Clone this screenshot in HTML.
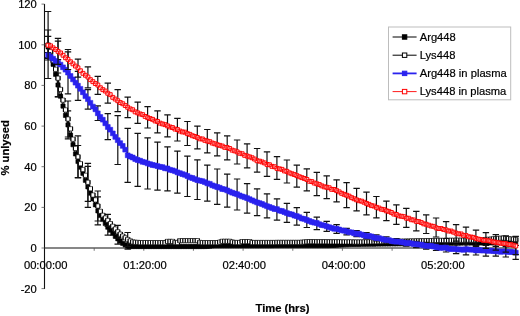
<!DOCTYPE html>
<html><head><meta charset="utf-8"><title>Lysis chart</title>
<style>
html,body{margin:0;padding:0;background:#fff}
svg{display:block;filter:blur(0.35px)}
text{font-family:"Liberation Sans",sans-serif;font-size:11.2px;fill:#000;stroke:#000;stroke-width:0.2px}
</style></head><body>
<svg width="520" height="316" viewBox="0 0 520 316">
<rect width="520" height="316" fill="#fff"/>
<path d="M44.5 4.1V289.0M44.5 248.0H516" stroke="#111" stroke-width="1.1" fill="none"/>
<path d="M41.5 288.6h3M41.5 248.0h3M41.5 207.4h3M41.5 166.7h3M41.5 126.1h3M41.5 85.4h3M41.5 44.8h3M41.5 4.1h3M94.2 248.0v2.8M143.8 248.0v2.8M193.4 248.0v2.8M243.1 248.0v2.8M292.8 248.0v2.8M342.4 248.0v2.8M392.1 248.0v2.8M441.7 248.0v2.8M491.3 248.0v2.8" stroke="#555" stroke-width="0.8" fill="none"/>
<text x="36.8" y="292.6" text-anchor="end">-20</text>
<text x="36.8" y="252.0" text-anchor="end">0</text>
<text x="36.8" y="211.4" text-anchor="end">20</text>
<text x="36.8" y="170.7" text-anchor="end">40</text>
<text x="36.8" y="130.1" text-anchor="end">60</text>
<text x="36.8" y="89.4" text-anchor="end">80</text>
<text x="36.8" y="48.8" text-anchor="end">100</text>
<text x="36.8" y="8.1" text-anchor="end">120</text>
<text x="45.7" y="269" text-anchor="middle">00:00:00</text>
<text x="145.0" y="269" text-anchor="middle">01:20:00</text>
<text x="244.3" y="269" text-anchor="middle">02:40:00</text>
<text x="343.6" y="269" text-anchor="middle">04:00:00</text>
<text x="442.9" y="269" text-anchor="middle">05:20:00</text>
<text x="282.5" y="311.8" text-anchor="middle" font-weight="bold">Time (hrs)</text>
<text transform="translate(9.2,147.8) rotate(-90)" text-anchor="middle" font-weight="bold" font-size="11.5">% unlysed</text>
<path d="M48.1 36.4V57.6M44.9 36.4h6.4M44.9 57.6h6.4M58.0 73.0V97.0M54.8 73.0h6.4M54.8 97.0h6.4M68.0 110.9V138.9M64.8 110.9h6.4M64.8 138.9h6.4M78.0 145.5V177.5M74.8 145.5h6.4M74.8 177.5h6.4M87.9 166.4V207.4M84.7 166.4h6.4M84.7 207.4h6.4M97.8 196.9V224.9M94.6 196.9h6.4M94.6 224.9h6.4M107.8 219.2V235.2M104.6 219.2h6.4M104.6 235.2h6.4M117.8 233.3V244.2M114.5 233.3h6.4M114.5 244.2h6.4M127.7 243.1V249.1M124.5 243.1h6.4M124.5 249.1h6.4" stroke="#111" stroke-width="1.2" fill="none"/>
<path d="M48.1 47.0 L50.6 54.2 L53.1 64.3 L55.6 74.2 L58.0 85.0 L60.5 96.2 L63.0 106.1 L65.5 115.4 L68.0 124.9 L70.5 135.1 L73.0 144.7 L75.5 153.9 L78.0 161.5 L80.4 167.2 L82.9 173.3 L85.4 180.3 L87.9 186.9 L90.4 193.2 L92.9 198.8 L95.4 204.8 L97.8 210.9 L100.3 215.5 L102.8 219.5 L105.3 223.5 L107.8 227.2 L110.3 230.2 L112.8 233.4 L115.3 236.3 L117.8 238.8 L120.2 241.2 L122.7 243.3 L125.2 245.0 L127.7 246.1 L130.2 246.5 L132.7 246.5 L135.2 246.5 L137.7 246.5 L140.1 246.5 L142.6 246.5 L145.1 246.5 L147.6 246.5 L150.1 246.5 L152.6 246.5 L155.1 246.5 L157.5 246.5 L160.0 246.5 L162.5 246.5 L165.0 246.5 L167.5 246.5 L170.0 246.5 L172.5 246.5 L175.0 246.5 L177.4 246.5 L179.9 246.5 L182.4 246.5 L184.9 246.5 L187.4 246.5 L189.9 246.5 L192.4 246.5 L194.9 246.5 L197.3 246.5 L199.8 246.5 L202.3 246.5 L204.8 246.5 L207.3 246.3 L209.8 246.1 L212.3 245.8 L214.8 245.6 L217.2 245.6 L219.7 245.6 L222.2 245.6 L224.7 245.6 L227.2 245.6 L229.7 245.6 L232.2 245.6 L234.7 245.6 L237.1 245.6 L239.6 245.6 L242.1 245.6 L244.6 245.6 L247.1 245.6 L249.6 245.6 L252.1 245.6 L254.6 245.6 L257.1 245.6 L259.5 245.6 L262.0 245.6 L264.5 245.6 L267.0 245.6 L269.5 245.6 L272.0 245.6 L274.5 245.5 L276.9 245.5 L279.4 245.5 L281.9 245.5 L284.4 245.5 L286.9 245.5 L289.4 245.5 L291.9 245.5 L294.4 245.5 L296.8 245.5 L299.3 245.5 L301.8 245.5 L304.3 245.5 L306.8 245.5 L309.3 245.5 L311.8 245.5 L314.3 245.5 L316.8 245.5 L319.2 245.5 L321.7 245.5 L324.2 245.5 L326.7 245.5 L329.2 245.5 L331.7 245.4 L334.2 245.3 L336.6 245.1 L339.1 245.0 L341.6 244.9 L344.1 244.7 L346.6 244.6 L349.1 244.5 L351.6 244.4 L354.1 244.3 L356.6 244.3 L359.0 244.3 L361.5 244.2 L364.0 244.2 L366.5 244.2 L369.0 244.1 L371.5 244.1 L374.0 244.1 L376.4 244.0 L378.9 244.0 L381.4 244.0 L383.9 243.9 L386.4 243.9 L388.9 243.9 L391.4 243.8 L393.9 243.8 L396.4 243.8 L398.8 243.7 L401.3 243.7 L403.8 243.7 L406.3 243.6 L408.8 243.6 L411.3 243.6 L413.8 243.5 L416.2 243.5 L418.7 243.5 L421.2 243.5 L423.7 243.4 L426.2 243.4 L428.7 243.4 L431.2 243.3 L433.7 243.3 L436.1 243.3 L438.6 243.2 L441.1 243.2 L443.6 243.2 L446.1 243.2 L448.6 243.1 L451.1 243.1 L453.6 243.1 L456.1 243.1 L458.5 243.1 L461.0 243.0 L463.5 243.0 L466.0 243.0 L468.5 243.0 L471.0 243.0 L473.5 242.9 L475.9 242.9 L478.4 242.9 L480.9 242.9 L483.4 242.9 L485.9 242.8 L488.4 242.8 L490.9 242.8 L493.4 242.8 L495.8 242.8 L498.3 242.7 L500.8 242.7 L503.3 242.7 L505.8 242.7 L508.3 242.7 L510.8 242.6 L513.3 242.6 L515.8 242.6" stroke="#000" stroke-width="1" fill="none"/>
<path d="M46.0 44.9h4.2v4.2h-4.2zM48.5 52.1h4.2v4.2h-4.2zM51.0 62.2h4.2v4.2h-4.2zM53.5 72.2h4.2v4.2h-4.2zM55.9 82.9h4.2v4.2h-4.2zM58.4 94.1h4.2v4.2h-4.2zM60.9 104.0h4.2v4.2h-4.2zM63.4 113.3h4.2v4.2h-4.2zM65.9 122.8h4.2v4.2h-4.2zM68.4 133.0h4.2v4.2h-4.2zM70.9 142.6h4.2v4.2h-4.2zM73.4 151.8h4.2v4.2h-4.2zM75.9 159.4h4.2v4.2h-4.2zM78.3 165.1h4.2v4.2h-4.2zM80.8 171.2h4.2v4.2h-4.2zM83.3 178.2h4.2v4.2h-4.2zM85.8 184.8h4.2v4.2h-4.2zM88.3 191.1h4.2v4.2h-4.2zM90.8 196.7h4.2v4.2h-4.2zM93.3 202.7h4.2v4.2h-4.2zM95.8 208.8h4.2v4.2h-4.2zM98.2 213.4h4.2v4.2h-4.2zM100.7 217.4h4.2v4.2h-4.2zM103.2 221.4h4.2v4.2h-4.2zM105.7 225.1h4.2v4.2h-4.2zM108.2 228.1h4.2v4.2h-4.2zM110.7 231.3h4.2v4.2h-4.2zM113.2 234.2h4.2v4.2h-4.2zM115.7 236.7h4.2v4.2h-4.2zM118.1 239.1h4.2v4.2h-4.2zM120.6 241.2h4.2v4.2h-4.2zM123.1 242.9h4.2v4.2h-4.2zM125.6 244.0h4.2v4.2h-4.2zM128.1 244.4h4.2v4.2h-4.2zM130.6 244.4h4.2v4.2h-4.2zM133.1 244.4h4.2v4.2h-4.2zM135.6 244.4h4.2v4.2h-4.2zM138.0 244.4h4.2v4.2h-4.2zM140.5 244.4h4.2v4.2h-4.2zM143.0 244.4h4.2v4.2h-4.2zM145.5 244.4h4.2v4.2h-4.2zM148.0 244.4h4.2v4.2h-4.2zM150.5 244.4h4.2v4.2h-4.2zM153.0 244.4h4.2v4.2h-4.2zM155.4 244.4h4.2v4.2h-4.2zM157.9 244.4h4.2v4.2h-4.2zM160.4 244.4h4.2v4.2h-4.2zM162.9 244.4h4.2v4.2h-4.2zM165.4 244.4h4.2v4.2h-4.2zM167.9 244.4h4.2v4.2h-4.2zM170.4 244.4h4.2v4.2h-4.2zM172.9 244.4h4.2v4.2h-4.2zM175.3 244.4h4.2v4.2h-4.2zM177.8 244.4h4.2v4.2h-4.2zM180.3 244.4h4.2v4.2h-4.2zM182.8 244.4h4.2v4.2h-4.2zM185.3 244.4h4.2v4.2h-4.2zM187.8 244.4h4.2v4.2h-4.2zM190.3 244.4h4.2v4.2h-4.2zM192.8 244.4h4.2v4.2h-4.2zM195.2 244.4h4.2v4.2h-4.2zM197.7 244.4h4.2v4.2h-4.2zM200.2 244.4h4.2v4.2h-4.2zM202.7 244.4h4.2v4.2h-4.2zM205.2 244.2h4.2v4.2h-4.2zM207.7 244.0h4.2v4.2h-4.2zM210.2 243.7h4.2v4.2h-4.2zM212.7 243.5h4.2v4.2h-4.2zM215.1 243.5h4.2v4.2h-4.2zM217.6 243.5h4.2v4.2h-4.2zM220.1 243.5h4.2v4.2h-4.2zM222.6 243.5h4.2v4.2h-4.2zM225.1 243.5h4.2v4.2h-4.2zM227.6 243.5h4.2v4.2h-4.2zM230.1 243.5h4.2v4.2h-4.2zM232.6 243.5h4.2v4.2h-4.2zM235.0 243.5h4.2v4.2h-4.2zM237.5 243.5h4.2v4.2h-4.2zM240.0 243.5h4.2v4.2h-4.2zM242.5 243.5h4.2v4.2h-4.2zM245.0 243.5h4.2v4.2h-4.2zM247.5 243.5h4.2v4.2h-4.2zM250.0 243.5h4.2v4.2h-4.2zM252.5 243.5h4.2v4.2h-4.2zM255.0 243.5h4.2v4.2h-4.2zM257.4 243.5h4.2v4.2h-4.2zM259.9 243.5h4.2v4.2h-4.2zM262.4 243.5h4.2v4.2h-4.2zM264.9 243.5h4.2v4.2h-4.2zM267.4 243.5h4.2v4.2h-4.2zM269.9 243.5h4.2v4.2h-4.2zM272.4 243.4h4.2v4.2h-4.2zM274.8 243.4h4.2v4.2h-4.2zM277.3 243.4h4.2v4.2h-4.2zM279.8 243.4h4.2v4.2h-4.2zM282.3 243.4h4.2v4.2h-4.2zM284.8 243.4h4.2v4.2h-4.2zM287.3 243.4h4.2v4.2h-4.2zM289.8 243.4h4.2v4.2h-4.2zM292.3 243.4h4.2v4.2h-4.2zM294.7 243.4h4.2v4.2h-4.2zM297.2 243.4h4.2v4.2h-4.2zM299.7 243.4h4.2v4.2h-4.2zM302.2 243.4h4.2v4.2h-4.2zM304.7 243.4h4.2v4.2h-4.2zM307.2 243.4h4.2v4.2h-4.2zM309.7 243.4h4.2v4.2h-4.2zM312.2 243.4h4.2v4.2h-4.2zM314.6 243.4h4.2v4.2h-4.2zM317.1 243.4h4.2v4.2h-4.2zM319.6 243.4h4.2v4.2h-4.2zM322.1 243.4h4.2v4.2h-4.2zM324.6 243.4h4.2v4.2h-4.2zM327.1 243.4h4.2v4.2h-4.2zM329.6 243.3h4.2v4.2h-4.2zM332.1 243.2h4.2v4.2h-4.2zM334.5 243.0h4.2v4.2h-4.2zM337.0 242.9h4.2v4.2h-4.2zM339.5 242.8h4.2v4.2h-4.2zM342.0 242.6h4.2v4.2h-4.2zM344.5 242.5h4.2v4.2h-4.2zM347.0 242.4h4.2v4.2h-4.2zM349.5 242.3h4.2v4.2h-4.2zM352.0 242.2h4.2v4.2h-4.2zM354.4 242.2h4.2v4.2h-4.2zM356.9 242.2h4.2v4.2h-4.2zM359.4 242.1h4.2v4.2h-4.2zM361.9 242.1h4.2v4.2h-4.2zM364.4 242.1h4.2v4.2h-4.2zM366.9 242.0h4.2v4.2h-4.2zM369.4 242.0h4.2v4.2h-4.2zM371.9 242.0h4.2v4.2h-4.2zM374.3 241.9h4.2v4.2h-4.2zM376.8 241.9h4.2v4.2h-4.2zM379.3 241.9h4.2v4.2h-4.2zM381.8 241.8h4.2v4.2h-4.2zM384.3 241.8h4.2v4.2h-4.2zM386.8 241.8h4.2v4.2h-4.2zM389.3 241.7h4.2v4.2h-4.2zM391.8 241.7h4.2v4.2h-4.2zM394.2 241.7h4.2v4.2h-4.2zM396.7 241.6h4.2v4.2h-4.2zM399.2 241.6h4.2v4.2h-4.2zM401.7 241.6h4.2v4.2h-4.2zM404.2 241.5h4.2v4.2h-4.2zM406.7 241.5h4.2v4.2h-4.2zM409.2 241.5h4.2v4.2h-4.2zM411.7 241.4h4.2v4.2h-4.2zM414.1 241.4h4.2v4.2h-4.2zM416.6 241.4h4.2v4.2h-4.2zM419.1 241.4h4.2v4.2h-4.2zM421.6 241.3h4.2v4.2h-4.2zM424.1 241.3h4.2v4.2h-4.2zM426.6 241.3h4.2v4.2h-4.2zM429.1 241.2h4.2v4.2h-4.2zM431.6 241.2h4.2v4.2h-4.2zM434.0 241.2h4.2v4.2h-4.2zM436.5 241.1h4.2v4.2h-4.2zM439.0 241.1h4.2v4.2h-4.2zM441.5 241.1h4.2v4.2h-4.2zM444.0 241.1h4.2v4.2h-4.2zM446.5 241.0h4.2v4.2h-4.2zM449.0 241.0h4.2v4.2h-4.2zM451.5 241.0h4.2v4.2h-4.2zM453.9 241.0h4.2v4.2h-4.2zM456.4 241.0h4.2v4.2h-4.2zM458.9 240.9h4.2v4.2h-4.2zM461.4 240.9h4.2v4.2h-4.2zM463.9 240.9h4.2v4.2h-4.2zM466.4 240.9h4.2v4.2h-4.2zM468.9 240.9h4.2v4.2h-4.2zM471.4 240.8h4.2v4.2h-4.2zM473.8 240.8h4.2v4.2h-4.2zM476.3 240.8h4.2v4.2h-4.2zM478.8 240.8h4.2v4.2h-4.2zM481.3 240.8h4.2v4.2h-4.2zM483.8 240.7h4.2v4.2h-4.2zM486.3 240.7h4.2v4.2h-4.2zM488.8 240.7h4.2v4.2h-4.2zM491.3 240.7h4.2v4.2h-4.2zM493.7 240.7h4.2v4.2h-4.2zM496.2 240.6h4.2v4.2h-4.2zM498.7 240.6h4.2v4.2h-4.2zM501.2 240.6h4.2v4.2h-4.2zM503.7 240.6h4.2v4.2h-4.2zM506.2 240.6h4.2v4.2h-4.2zM508.7 240.5h4.2v4.2h-4.2zM511.2 240.5h4.2v4.2h-4.2zM513.6 240.5h4.2v4.2h-4.2z" fill="#000" stroke="#000" stroke-width="0.6"/>
<path d="M48.1 30.0V60.0M44.9 30.0h6.4M44.9 60.0h6.4M58.0 59.7V96.7M54.8 59.7h6.4M54.8 96.7h6.4M68.0 101.0V137.0M64.8 101.0h6.4M64.8 137.0h6.4M78.0 135.8V177.8M74.8 135.8h6.4M74.8 177.8h6.4M87.9 163.3V201.3M84.7 163.3h6.4M84.7 201.3h6.4M97.8 191.0V221.0M94.6 191.0h6.4M94.6 221.0h6.4M107.8 214.4V226.4M104.6 214.4h6.4M104.6 226.4h6.4M117.8 225.4V238.2M114.5 225.4h6.4M114.5 238.2h6.4M127.7 232.5V246.5M124.5 232.5h6.4M124.5 246.5h6.4" stroke="#111" stroke-width="1.2" fill="none"/>
<path d="M48.1 45.0 L50.6 51.5 L53.1 60.5 L55.6 69.3 L58.0 78.2 L60.5 89.4 L63.0 100.1 L65.5 109.9 L68.0 119.0 L70.5 128.8 L73.0 139.2 L75.5 148.4 L78.0 156.8 L80.4 163.7 L82.9 169.5 L85.4 175.3 L87.9 182.3 L90.4 188.7 L92.9 195.0 L95.4 199.9 L97.8 206.0 L100.3 211.3 L102.8 215.3 L105.3 218.0 L107.8 220.4 L110.3 223.6 L112.8 226.3 L115.3 229.0 L117.8 231.8 L120.2 234.1 L122.7 236.1 L125.2 237.8 L127.7 239.5 L130.2 240.9 L132.7 241.9 L135.2 242.3 L137.7 242.4 L140.1 242.6 L142.6 242.6 L145.1 242.6 L147.6 242.6 L150.1 242.6 L152.6 242.6 L155.1 242.6 L157.5 242.6 L160.0 242.6 L162.5 242.6 L165.0 242.6 L167.5 241.4 L170.0 241.4 L172.5 241.4 L175.0 242.5 L177.4 242.5 L179.9 240.7 L182.4 240.6 L184.9 240.6 L187.4 240.6 L189.9 240.6 L192.4 240.6 L194.9 240.6 L197.3 240.6 L199.8 242.4 L202.3 242.6 L204.8 242.6 L207.3 242.6 L209.8 242.6 L212.3 242.6 L214.8 242.6 L217.2 242.6 L219.7 242.1 L222.2 241.3 L224.7 241.3 L227.2 241.3 L229.7 241.3 L232.2 242.0 L234.7 242.5 L237.1 242.5 L239.6 242.5 L242.1 241.6 L244.6 241.6 L247.1 241.6 L249.6 241.6 L252.1 242.5 L254.6 242.5 L257.1 242.5 L259.5 242.5 L262.0 242.5 L264.5 242.5 L267.0 242.5 L269.5 242.5 L272.0 242.5 L274.5 242.5 L276.9 242.4 L279.4 242.4 L281.9 242.4 L284.4 242.4 L286.9 242.4 L289.4 242.4 L291.9 242.4 L294.4 242.4 L296.8 242.4 L299.3 242.4 L301.8 242.2 L304.3 242.0 L306.8 241.7 L309.3 241.6 L311.8 241.6 L314.3 241.6 L316.8 241.7 L319.2 241.7 L321.7 241.7 L324.2 241.7 L326.7 241.7 L329.2 241.8 L331.7 241.8 L334.2 241.8 L336.6 241.8 L339.1 241.8 L341.6 241.9 L344.1 241.9 L346.6 241.9 L349.1 241.9 L351.6 241.9 L354.1 242.0 L356.6 242.0 L359.0 242.0 L361.5 242.0 L364.0 241.9 L366.5 241.9 L369.0 241.8 L371.5 241.8 L374.0 241.7 L376.4 241.7 L378.9 241.6 L381.4 241.6 L383.9 241.5 L386.4 241.5 L388.9 241.4 L391.4 241.4 L393.9 241.3 L396.4 241.3 L398.8 241.2 L401.3 241.2 L403.8 241.1 L406.3 241.1 L408.8 241.0 L411.3 241.0 L413.8 240.9 L416.2 240.9 L418.7 240.8 L421.2 240.8 L423.7 240.7 L426.2 240.7 L428.7 240.6 L431.2 240.6 L433.7 240.5 L436.1 240.5 L438.6 240.4 L441.1 240.4 L443.6 240.4 L446.1 240.3 L448.6 240.3 L451.1 240.3 L453.6 240.3 L456.1 240.2 L458.5 240.2 L461.0 240.2 L463.5 240.2 L466.0 240.1 L468.5 240.1 L471.0 240.1 L473.5 240.1 L475.9 240.0 L478.4 240.0 L480.9 239.9 L483.4 239.7 L485.9 239.5 L488.4 239.3 L490.9 239.1 L493.4 238.8 L495.8 238.6 L498.3 238.4 L500.8 238.2 L503.3 238.0 L505.8 238.3 L508.3 238.6 L510.8 238.9 L513.3 239.2 L515.8 239.5" stroke="#000" stroke-width="1" fill="none"/>
<g><path d="M46.0 42.9h4.2v4.2h-4.2z" fill="#fff" stroke="#000" stroke-width="0.6"/><path d="M46.0 42.9v4.2M50.2 42.9v4.2" stroke="#000" stroke-width="1.0"/><path d="M48.5 49.4h4.2v4.2h-4.2z" fill="#fff" stroke="#000" stroke-width="0.6"/><path d="M48.5 49.4v4.2M52.7 49.4v4.2" stroke="#000" stroke-width="1.0"/><path d="M51.0 58.4h4.2v4.2h-4.2z" fill="#fff" stroke="#000" stroke-width="0.6"/><path d="M51.0 58.4v4.2M55.2 58.4v4.2" stroke="#000" stroke-width="1.0"/><path d="M53.5 67.2h4.2v4.2h-4.2z" fill="#fff" stroke="#000" stroke-width="0.6"/><path d="M53.5 67.2v4.2M57.7 67.2v4.2" stroke="#000" stroke-width="1.0"/><path d="M55.9 76.1h4.2v4.2h-4.2z" fill="#fff" stroke="#000" stroke-width="0.6"/><path d="M55.9 76.1v4.2M60.1 76.1v4.2" stroke="#000" stroke-width="1.0"/><path d="M58.4 87.3h4.2v4.2h-4.2z" fill="#fff" stroke="#000" stroke-width="0.6"/><path d="M58.4 87.3v4.2M62.6 87.3v4.2" stroke="#000" stroke-width="1.0"/><path d="M60.9 98.0h4.2v4.2h-4.2z" fill="#fff" stroke="#000" stroke-width="0.6"/><path d="M60.9 98.0v4.2M65.1 98.0v4.2" stroke="#000" stroke-width="1.0"/><path d="M63.4 107.8h4.2v4.2h-4.2z" fill="#fff" stroke="#000" stroke-width="0.6"/><path d="M63.4 107.8v4.2M67.6 107.8v4.2" stroke="#000" stroke-width="1.0"/><path d="M65.9 116.9h4.2v4.2h-4.2z" fill="#fff" stroke="#000" stroke-width="0.6"/><path d="M65.9 116.9v4.2M70.1 116.9v4.2" stroke="#000" stroke-width="1.0"/><path d="M68.4 126.7h4.2v4.2h-4.2z" fill="#fff" stroke="#000" stroke-width="0.6"/><path d="M68.4 126.7v4.2M72.6 126.7v4.2" stroke="#000" stroke-width="1.0"/><path d="M70.9 137.1h4.2v4.2h-4.2z" fill="#fff" stroke="#000" stroke-width="0.6"/><path d="M70.9 137.1v4.2M75.1 137.1v4.2" stroke="#000" stroke-width="1.0"/><path d="M73.4 146.3h4.2v4.2h-4.2z" fill="#fff" stroke="#000" stroke-width="0.6"/><path d="M73.4 146.3v4.2M77.6 146.3v4.2" stroke="#000" stroke-width="1.0"/><path d="M75.9 154.7h4.2v4.2h-4.2z" fill="#fff" stroke="#000" stroke-width="0.6"/><path d="M75.9 154.7v4.2M80.0 154.7v4.2" stroke="#000" stroke-width="1.0"/><path d="M78.3 161.6h4.2v4.2h-4.2z" fill="#fff" stroke="#000" stroke-width="0.6"/><path d="M78.3 161.6v4.2M82.5 161.6v4.2" stroke="#000" stroke-width="1.0"/><path d="M80.8 167.4h4.2v4.2h-4.2z" fill="#fff" stroke="#000" stroke-width="0.6"/><path d="M80.8 167.4v4.2M85.0 167.4v4.2" stroke="#000" stroke-width="1.0"/><path d="M83.3 173.2h4.2v4.2h-4.2z" fill="#fff" stroke="#000" stroke-width="0.6"/><path d="M83.3 173.2v4.2M87.5 173.2v4.2" stroke="#000" stroke-width="1.0"/><path d="M85.8 180.2h4.2v4.2h-4.2z" fill="#fff" stroke="#000" stroke-width="0.6"/><path d="M85.8 180.2v4.2M90.0 180.2v4.2" stroke="#000" stroke-width="1.0"/><path d="M88.3 186.6h4.2v4.2h-4.2z" fill="#fff" stroke="#000" stroke-width="0.6"/><path d="M88.3 186.6v4.2M92.5 186.6v4.2" stroke="#000" stroke-width="1.0"/><path d="M90.8 192.9h4.2v4.2h-4.2z" fill="#fff" stroke="#000" stroke-width="0.6"/><path d="M90.8 192.9v4.2M95.0 192.9v4.2" stroke="#000" stroke-width="1.0"/><path d="M93.3 197.8h4.2v4.2h-4.2z" fill="#fff" stroke="#000" stroke-width="0.6"/><path d="M93.3 197.8v4.2M97.5 197.8v4.2" stroke="#000" stroke-width="1.0"/><path d="M95.8 203.9h4.2v4.2h-4.2z" fill="#fff" stroke="#000" stroke-width="0.6"/><path d="M95.8 203.9v4.2M99.9 203.9v4.2" stroke="#000" stroke-width="1.0"/><path d="M98.2 209.2h4.2v4.2h-4.2z" fill="#fff" stroke="#000" stroke-width="0.6"/><path d="M98.2 209.2v4.2M102.4 209.2v4.2" stroke="#000" stroke-width="1.0"/><path d="M100.7 213.2h4.2v4.2h-4.2z" fill="#fff" stroke="#000" stroke-width="0.6"/><path d="M100.7 213.2v4.2M104.9 213.2v4.2" stroke="#000" stroke-width="1.0"/><path d="M103.2 215.9h4.2v4.2h-4.2z" fill="#fff" stroke="#000" stroke-width="0.6"/><path d="M103.2 215.9v4.2M107.4 215.9v4.2" stroke="#000" stroke-width="1.0"/><path d="M105.7 218.3h4.2v4.2h-4.2z" fill="#fff" stroke="#000" stroke-width="0.6"/><path d="M105.7 218.3v4.2M109.9 218.3v4.2" stroke="#000" stroke-width="1.0"/><path d="M108.2 221.5h4.2v4.2h-4.2z" fill="#fff" stroke="#000" stroke-width="0.6"/><path d="M108.2 221.5v4.2M112.4 221.5v4.2" stroke="#000" stroke-width="1.0"/><path d="M110.7 224.2h4.2v4.2h-4.2z" fill="#fff" stroke="#000" stroke-width="0.6"/><path d="M110.7 224.2v4.2M114.9 224.2v4.2" stroke="#000" stroke-width="1.0"/><path d="M113.2 226.9h4.2v4.2h-4.2z" fill="#fff" stroke="#000" stroke-width="0.6"/><path d="M113.2 226.9v4.2M117.4 226.9v4.2" stroke="#000" stroke-width="1.0"/><path d="M115.7 229.7h4.2v4.2h-4.2z" fill="#fff" stroke="#000" stroke-width="0.6"/><path d="M115.7 229.7v4.2M119.8 229.7v4.2" stroke="#000" stroke-width="1.0"/><path d="M118.1 232.0h4.2v4.2h-4.2z" fill="#fff" stroke="#000" stroke-width="0.6"/><path d="M118.1 232.0v4.2M122.3 232.0v4.2" stroke="#000" stroke-width="1.0"/><path d="M120.6 234.0h4.2v4.2h-4.2z" fill="#fff" stroke="#000" stroke-width="0.6"/><path d="M120.6 234.0v4.2M124.8 234.0v4.2" stroke="#000" stroke-width="1.0"/><path d="M123.1 235.7h4.2v4.2h-4.2z" fill="#fff" stroke="#000" stroke-width="0.6"/><path d="M123.1 235.7v4.2M127.3 235.7v4.2" stroke="#000" stroke-width="1.0"/><path d="M125.6 237.4h4.2v4.2h-4.2z" fill="#fff" stroke="#000" stroke-width="0.6"/><path d="M125.6 237.4v4.2M129.8 237.4v4.2" stroke="#000" stroke-width="1.0"/><path d="M128.1 238.8h4.2v4.2h-4.2z" fill="#fff" stroke="#000" stroke-width="0.6"/><path d="M128.1 238.8v4.2M132.3 238.8v4.2" stroke="#000" stroke-width="1.0"/><path d="M130.6 239.8h4.2v4.2h-4.2z" fill="#fff" stroke="#000" stroke-width="0.6"/><path d="M130.6 239.8v4.2M134.8 239.8v4.2" stroke="#000" stroke-width="1.0"/><path d="M133.1 240.2h4.2v4.2h-4.2z" fill="#fff" stroke="#000" stroke-width="0.6"/><path d="M133.1 240.2v4.2M137.3 240.2v4.2" stroke="#000" stroke-width="1.0"/><path d="M135.6 240.3h4.2v4.2h-4.2z" fill="#fff" stroke="#000" stroke-width="0.6"/><path d="M135.6 240.3v4.2M139.8 240.3v4.2" stroke="#000" stroke-width="1.0"/><path d="M138.0 240.5h4.2v4.2h-4.2z" fill="#fff" stroke="#000" stroke-width="0.6"/><path d="M138.0 240.5v4.2M142.2 240.5v4.2" stroke="#000" stroke-width="1.0"/><path d="M140.5 240.5h4.2v4.2h-4.2z" fill="#fff" stroke="#000" stroke-width="0.6"/><path d="M140.5 240.5v4.2M144.7 240.5v4.2" stroke="#000" stroke-width="1.0"/><path d="M143.0 240.5h4.2v4.2h-4.2z" fill="#fff" stroke="#000" stroke-width="0.6"/><path d="M143.0 240.5v4.2M147.2 240.5v4.2" stroke="#000" stroke-width="1.0"/><path d="M145.5 240.5h4.2v4.2h-4.2z" fill="#fff" stroke="#000" stroke-width="0.6"/><path d="M145.5 240.5v4.2M149.7 240.5v4.2" stroke="#000" stroke-width="1.0"/><path d="M148.0 240.5h4.2v4.2h-4.2z" fill="#fff" stroke="#000" stroke-width="0.6"/><path d="M148.0 240.5v4.2M152.2 240.5v4.2" stroke="#000" stroke-width="1.0"/><path d="M150.5 240.5h4.2v4.2h-4.2z" fill="#fff" stroke="#000" stroke-width="0.6"/><path d="M150.5 240.5v4.2M154.7 240.5v4.2" stroke="#000" stroke-width="1.0"/><path d="M153.0 240.5h4.2v4.2h-4.2z" fill="#fff" stroke="#000" stroke-width="0.6"/><path d="M153.0 240.5v4.2M157.2 240.5v4.2" stroke="#000" stroke-width="1.0"/><path d="M155.4 240.5h4.2v4.2h-4.2z" fill="#fff" stroke="#000" stroke-width="0.6"/><path d="M155.4 240.5v4.2M159.6 240.5v4.2" stroke="#000" stroke-width="1.0"/><path d="M157.9 240.5h4.2v4.2h-4.2z" fill="#fff" stroke="#000" stroke-width="0.6"/><path d="M157.9 240.5v4.2M162.1 240.5v4.2" stroke="#000" stroke-width="1.0"/><path d="M160.4 240.5h4.2v4.2h-4.2z" fill="#fff" stroke="#000" stroke-width="0.6"/><path d="M160.4 240.5v4.2M164.6 240.5v4.2" stroke="#000" stroke-width="1.0"/><path d="M162.9 240.5h4.2v4.2h-4.2z" fill="#fff" stroke="#000" stroke-width="0.6"/><path d="M162.9 240.5v4.2M167.1 240.5v4.2" stroke="#000" stroke-width="1.0"/><path d="M165.4 239.3h4.2v4.2h-4.2z" fill="#fff" stroke="#000" stroke-width="0.6"/><path d="M165.4 239.3v4.2M169.6 239.3v4.2" stroke="#000" stroke-width="1.0"/><path d="M167.9 239.3h4.2v4.2h-4.2z" fill="#fff" stroke="#000" stroke-width="0.6"/><path d="M167.9 239.3v4.2M172.1 239.3v4.2" stroke="#000" stroke-width="1.0"/><path d="M170.4 239.3h4.2v4.2h-4.2z" fill="#fff" stroke="#000" stroke-width="0.6"/><path d="M170.4 239.3v4.2M174.6 239.3v4.2" stroke="#000" stroke-width="1.0"/><path d="M172.9 240.4h4.2v4.2h-4.2z" fill="#fff" stroke="#000" stroke-width="0.6"/><path d="M172.9 240.4v4.2M177.1 240.4v4.2" stroke="#000" stroke-width="1.0"/><path d="M175.3 240.4h4.2v4.2h-4.2z" fill="#fff" stroke="#000" stroke-width="0.6"/><path d="M175.3 240.4v4.2M179.5 240.4v4.2" stroke="#000" stroke-width="1.0"/><path d="M177.8 238.6h4.2v4.2h-4.2z" fill="#fff" stroke="#000" stroke-width="0.6"/><path d="M177.8 238.6v4.2M182.0 238.6v4.2" stroke="#000" stroke-width="1.0"/><path d="M180.3 238.5h4.2v4.2h-4.2z" fill="#fff" stroke="#000" stroke-width="0.6"/><path d="M180.3 238.5v4.2M184.5 238.5v4.2" stroke="#000" stroke-width="1.0"/><path d="M182.8 238.5h4.2v4.2h-4.2z" fill="#fff" stroke="#000" stroke-width="0.6"/><path d="M182.8 238.5v4.2M187.0 238.5v4.2" stroke="#000" stroke-width="1.0"/><path d="M185.3 238.5h4.2v4.2h-4.2z" fill="#fff" stroke="#000" stroke-width="0.6"/><path d="M185.3 238.5v4.2M189.5 238.5v4.2" stroke="#000" stroke-width="1.0"/><path d="M187.8 238.5h4.2v4.2h-4.2z" fill="#fff" stroke="#000" stroke-width="0.6"/><path d="M187.8 238.5v4.2M192.0 238.5v4.2" stroke="#000" stroke-width="1.0"/><path d="M190.3 238.5h4.2v4.2h-4.2z" fill="#fff" stroke="#000" stroke-width="0.6"/><path d="M190.3 238.5v4.2M194.5 238.5v4.2" stroke="#000" stroke-width="1.0"/><path d="M192.8 238.5h4.2v4.2h-4.2z" fill="#fff" stroke="#000" stroke-width="0.6"/><path d="M192.8 238.5v4.2M197.0 238.5v4.2" stroke="#000" stroke-width="1.0"/><path d="M195.2 238.5h4.2v4.2h-4.2z" fill="#fff" stroke="#000" stroke-width="0.6"/><path d="M195.2 238.5v4.2M199.4 238.5v4.2" stroke="#000" stroke-width="1.0"/><path d="M197.7 240.3h4.2v4.2h-4.2z" fill="#fff" stroke="#000" stroke-width="0.6"/><path d="M197.7 240.3v4.2M201.9 240.3v4.2" stroke="#000" stroke-width="1.0"/><path d="M200.2 240.5h4.2v4.2h-4.2z" fill="#fff" stroke="#000" stroke-width="0.6"/><path d="M200.2 240.5v4.2M204.4 240.5v4.2" stroke="#000" stroke-width="1.0"/><path d="M202.7 240.5h4.2v4.2h-4.2z" fill="#fff" stroke="#000" stroke-width="0.6"/><path d="M202.7 240.5v4.2M206.9 240.5v4.2" stroke="#000" stroke-width="1.0"/><path d="M205.2 240.5h4.2v4.2h-4.2z" fill="#fff" stroke="#000" stroke-width="0.6"/><path d="M205.2 240.5v4.2M209.4 240.5v4.2" stroke="#000" stroke-width="1.0"/><path d="M207.7 240.5h4.2v4.2h-4.2z" fill="#fff" stroke="#000" stroke-width="0.6"/><path d="M207.7 240.5v4.2M211.9 240.5v4.2" stroke="#000" stroke-width="1.0"/><path d="M210.2 240.5h4.2v4.2h-4.2z" fill="#fff" stroke="#000" stroke-width="0.6"/><path d="M210.2 240.5v4.2M214.4 240.5v4.2" stroke="#000" stroke-width="1.0"/><path d="M212.7 240.5h4.2v4.2h-4.2z" fill="#fff" stroke="#000" stroke-width="0.6"/><path d="M212.7 240.5v4.2M216.9 240.5v4.2" stroke="#000" stroke-width="1.0"/><path d="M215.1 240.5h4.2v4.2h-4.2z" fill="#fff" stroke="#000" stroke-width="0.6"/><path d="M215.1 240.5v4.2M219.3 240.5v4.2" stroke="#000" stroke-width="1.0"/><path d="M217.6 240.0h4.2v4.2h-4.2z" fill="#fff" stroke="#000" stroke-width="0.6"/><path d="M217.6 240.0v4.2M221.8 240.0v4.2" stroke="#000" stroke-width="1.0"/><path d="M220.1 239.2h4.2v4.2h-4.2z" fill="#fff" stroke="#000" stroke-width="0.6"/><path d="M220.1 239.2v4.2M224.3 239.2v4.2" stroke="#000" stroke-width="1.0"/><path d="M222.6 239.2h4.2v4.2h-4.2z" fill="#fff" stroke="#000" stroke-width="0.6"/><path d="M222.6 239.2v4.2M226.8 239.2v4.2" stroke="#000" stroke-width="1.0"/><path d="M225.1 239.2h4.2v4.2h-4.2z" fill="#fff" stroke="#000" stroke-width="0.6"/><path d="M225.1 239.2v4.2M229.3 239.2v4.2" stroke="#000" stroke-width="1.0"/><path d="M227.6 239.2h4.2v4.2h-4.2z" fill="#fff" stroke="#000" stroke-width="0.6"/><path d="M227.6 239.2v4.2M231.8 239.2v4.2" stroke="#000" stroke-width="1.0"/><path d="M230.1 239.9h4.2v4.2h-4.2z" fill="#fff" stroke="#000" stroke-width="0.6"/><path d="M230.1 239.9v4.2M234.3 239.9v4.2" stroke="#000" stroke-width="1.0"/><path d="M232.6 240.4h4.2v4.2h-4.2z" fill="#fff" stroke="#000" stroke-width="0.6"/><path d="M232.6 240.4v4.2M236.8 240.4v4.2" stroke="#000" stroke-width="1.0"/><path d="M235.0 240.4h4.2v4.2h-4.2z" fill="#fff" stroke="#000" stroke-width="0.6"/><path d="M235.0 240.4v4.2M239.2 240.4v4.2" stroke="#000" stroke-width="1.0"/><path d="M237.5 240.4h4.2v4.2h-4.2z" fill="#fff" stroke="#000" stroke-width="0.6"/><path d="M237.5 240.4v4.2M241.7 240.4v4.2" stroke="#000" stroke-width="1.0"/><path d="M240.0 239.5h4.2v4.2h-4.2z" fill="#fff" stroke="#000" stroke-width="0.6"/><path d="M240.0 239.5v4.2M244.2 239.5v4.2" stroke="#000" stroke-width="1.0"/><path d="M242.5 239.5h4.2v4.2h-4.2z" fill="#fff" stroke="#000" stroke-width="0.6"/><path d="M242.5 239.5v4.2M246.7 239.5v4.2" stroke="#000" stroke-width="1.0"/><path d="M245.0 239.5h4.2v4.2h-4.2z" fill="#fff" stroke="#000" stroke-width="0.6"/><path d="M245.0 239.5v4.2M249.2 239.5v4.2" stroke="#000" stroke-width="1.0"/><path d="M247.5 239.5h4.2v4.2h-4.2z" fill="#fff" stroke="#000" stroke-width="0.6"/><path d="M247.5 239.5v4.2M251.7 239.5v4.2" stroke="#000" stroke-width="1.0"/><path d="M250.0 240.4h4.2v4.2h-4.2z" fill="#fff" stroke="#000" stroke-width="0.6"/><path d="M250.0 240.4v4.2M254.2 240.4v4.2" stroke="#000" stroke-width="1.0"/><path d="M252.5 240.4h4.2v4.2h-4.2z" fill="#fff" stroke="#000" stroke-width="0.6"/><path d="M252.5 240.4v4.2M256.7 240.4v4.2" stroke="#000" stroke-width="1.0"/><path d="M255.0 240.4h4.2v4.2h-4.2z" fill="#fff" stroke="#000" stroke-width="0.6"/><path d="M255.0 240.4v4.2M259.2 240.4v4.2" stroke="#000" stroke-width="1.0"/><path d="M257.4 240.4h4.2v4.2h-4.2z" fill="#fff" stroke="#000" stroke-width="0.6"/><path d="M257.4 240.4v4.2M261.6 240.4v4.2" stroke="#000" stroke-width="1.0"/><path d="M259.9 240.4h4.2v4.2h-4.2z" fill="#fff" stroke="#000" stroke-width="0.6"/><path d="M259.9 240.4v4.2M264.1 240.4v4.2" stroke="#000" stroke-width="1.0"/><path d="M262.4 240.4h4.2v4.2h-4.2z" fill="#fff" stroke="#000" stroke-width="0.6"/><path d="M262.4 240.4v4.2M266.6 240.4v4.2" stroke="#000" stroke-width="1.0"/><path d="M264.9 240.4h4.2v4.2h-4.2z" fill="#fff" stroke="#000" stroke-width="0.6"/><path d="M264.9 240.4v4.2M269.1 240.4v4.2" stroke="#000" stroke-width="1.0"/><path d="M267.4 240.4h4.2v4.2h-4.2z" fill="#fff" stroke="#000" stroke-width="0.6"/><path d="M267.4 240.4v4.2M271.6 240.4v4.2" stroke="#000" stroke-width="1.0"/><path d="M269.9 240.4h4.2v4.2h-4.2z" fill="#fff" stroke="#000" stroke-width="0.6"/><path d="M269.9 240.4v4.2M274.1 240.4v4.2" stroke="#000" stroke-width="1.0"/><path d="M272.4 240.4h4.2v4.2h-4.2z" fill="#fff" stroke="#000" stroke-width="0.6"/><path d="M272.4 240.4v4.2M276.6 240.4v4.2" stroke="#000" stroke-width="1.0"/><path d="M274.8 240.3h4.2v4.2h-4.2z" fill="#fff" stroke="#000" stroke-width="0.6"/><path d="M274.8 240.3v4.2M279.1 240.3v4.2" stroke="#000" stroke-width="1.0"/><path d="M277.3 240.3h4.2v4.2h-4.2z" fill="#fff" stroke="#000" stroke-width="0.6"/><path d="M277.3 240.3v4.2M281.5 240.3v4.2" stroke="#000" stroke-width="1.0"/><path d="M279.8 240.3h4.2v4.2h-4.2z" fill="#fff" stroke="#000" stroke-width="0.6"/><path d="M279.8 240.3v4.2M284.0 240.3v4.2" stroke="#000" stroke-width="1.0"/><path d="M282.3 240.3h4.2v4.2h-4.2z" fill="#fff" stroke="#000" stroke-width="0.6"/><path d="M282.3 240.3v4.2M286.5 240.3v4.2" stroke="#000" stroke-width="1.0"/><path d="M284.8 240.3h4.2v4.2h-4.2z" fill="#fff" stroke="#000" stroke-width="0.6"/><path d="M284.8 240.3v4.2M289.0 240.3v4.2" stroke="#000" stroke-width="1.0"/><path d="M287.3 240.3h4.2v4.2h-4.2z" fill="#fff" stroke="#000" stroke-width="0.6"/><path d="M287.3 240.3v4.2M291.5 240.3v4.2" stroke="#000" stroke-width="1.0"/><path d="M289.8 240.3h4.2v4.2h-4.2z" fill="#fff" stroke="#000" stroke-width="0.6"/><path d="M289.8 240.3v4.2M294.0 240.3v4.2" stroke="#000" stroke-width="1.0"/><path d="M292.3 240.3h4.2v4.2h-4.2z" fill="#fff" stroke="#000" stroke-width="0.6"/><path d="M292.3 240.3v4.2M296.5 240.3v4.2" stroke="#000" stroke-width="1.0"/><path d="M294.7 240.3h4.2v4.2h-4.2z" fill="#fff" stroke="#000" stroke-width="0.6"/><path d="M294.7 240.3v4.2M298.9 240.3v4.2" stroke="#000" stroke-width="1.0"/><path d="M297.2 240.3h4.2v4.2h-4.2z" fill="#fff" stroke="#000" stroke-width="0.6"/><path d="M297.2 240.3v4.2M301.4 240.3v4.2" stroke="#000" stroke-width="1.0"/><path d="M299.7 240.1h4.2v4.2h-4.2z" fill="#fff" stroke="#000" stroke-width="0.6"/><path d="M299.7 240.1v4.2M303.9 240.1v4.2" stroke="#000" stroke-width="1.0"/><path d="M302.2 239.9h4.2v4.2h-4.2z" fill="#fff" stroke="#000" stroke-width="0.6"/><path d="M302.2 239.9v4.2M306.4 239.9v4.2" stroke="#000" stroke-width="1.0"/><path d="M304.7 239.6h4.2v4.2h-4.2z" fill="#fff" stroke="#000" stroke-width="0.6"/><path d="M304.7 239.6v4.2M308.9 239.6v4.2" stroke="#000" stroke-width="1.0"/><path d="M307.2 239.5h4.2v4.2h-4.2z" fill="#fff" stroke="#000" stroke-width="0.6"/><path d="M307.2 239.5v4.2M311.4 239.5v4.2" stroke="#000" stroke-width="1.0"/><path d="M309.7 239.5h4.2v4.2h-4.2z" fill="#fff" stroke="#000" stroke-width="0.6"/><path d="M309.7 239.5v4.2M313.9 239.5v4.2" stroke="#000" stroke-width="1.0"/><path d="M312.2 239.5h4.2v4.2h-4.2z" fill="#fff" stroke="#000" stroke-width="0.6"/><path d="M312.2 239.5v4.2M316.4 239.5v4.2" stroke="#000" stroke-width="1.0"/><path d="M314.6 239.6h4.2v4.2h-4.2z" fill="#fff" stroke="#000" stroke-width="0.6"/><path d="M314.6 239.6v4.2M318.9 239.6v4.2" stroke="#000" stroke-width="1.0"/><path d="M317.1 239.6h4.2v4.2h-4.2z" fill="#fff" stroke="#000" stroke-width="0.6"/><path d="M317.1 239.6v4.2M321.3 239.6v4.2" stroke="#000" stroke-width="1.0"/><path d="M319.6 239.6h4.2v4.2h-4.2z" fill="#fff" stroke="#000" stroke-width="0.6"/><path d="M319.6 239.6v4.2M323.8 239.6v4.2" stroke="#000" stroke-width="1.0"/><path d="M322.1 239.6h4.2v4.2h-4.2z" fill="#fff" stroke="#000" stroke-width="0.6"/><path d="M322.1 239.6v4.2M326.3 239.6v4.2" stroke="#000" stroke-width="1.0"/><path d="M324.6 239.6h4.2v4.2h-4.2z" fill="#fff" stroke="#000" stroke-width="0.6"/><path d="M324.6 239.6v4.2M328.8 239.6v4.2" stroke="#000" stroke-width="1.0"/><path d="M327.1 239.7h4.2v4.2h-4.2z" fill="#fff" stroke="#000" stroke-width="0.6"/><path d="M327.1 239.7v4.2M331.3 239.7v4.2" stroke="#000" stroke-width="1.0"/><path d="M329.6 239.7h4.2v4.2h-4.2z" fill="#fff" stroke="#000" stroke-width="0.6"/><path d="M329.6 239.7v4.2M333.8 239.7v4.2" stroke="#000" stroke-width="1.0"/><path d="M332.1 239.7h4.2v4.2h-4.2z" fill="#fff" stroke="#000" stroke-width="0.6"/><path d="M332.1 239.7v4.2M336.3 239.7v4.2" stroke="#000" stroke-width="1.0"/><path d="M334.5 239.7h4.2v4.2h-4.2z" fill="#fff" stroke="#000" stroke-width="0.6"/><path d="M334.5 239.7v4.2M338.8 239.7v4.2" stroke="#000" stroke-width="1.0"/><path d="M337.0 239.7h4.2v4.2h-4.2z" fill="#fff" stroke="#000" stroke-width="0.6"/><path d="M337.0 239.7v4.2M341.2 239.7v4.2" stroke="#000" stroke-width="1.0"/><path d="M339.5 239.8h4.2v4.2h-4.2z" fill="#fff" stroke="#000" stroke-width="0.6"/><path d="M339.5 239.8v4.2M343.7 239.8v4.2" stroke="#000" stroke-width="1.0"/><path d="M342.0 239.8h4.2v4.2h-4.2z" fill="#fff" stroke="#000" stroke-width="0.6"/><path d="M342.0 239.8v4.2M346.2 239.8v4.2" stroke="#000" stroke-width="1.0"/><path d="M344.5 239.8h4.2v4.2h-4.2z" fill="#fff" stroke="#000" stroke-width="0.6"/><path d="M344.5 239.8v4.2M348.7 239.8v4.2" stroke="#000" stroke-width="1.0"/><path d="M347.0 239.8h4.2v4.2h-4.2z" fill="#fff" stroke="#000" stroke-width="0.6"/><path d="M347.0 239.8v4.2M351.2 239.8v4.2" stroke="#000" stroke-width="1.0"/><path d="M349.5 239.8h4.2v4.2h-4.2z" fill="#fff" stroke="#000" stroke-width="0.6"/><path d="M349.5 239.8v4.2M353.7 239.8v4.2" stroke="#000" stroke-width="1.0"/><path d="M352.0 239.9h4.2v4.2h-4.2z" fill="#fff" stroke="#000" stroke-width="0.6"/><path d="M352.0 239.9v4.2M356.2 239.9v4.2" stroke="#000" stroke-width="1.0"/><path d="M354.4 239.9h4.2v4.2h-4.2z" fill="#fff" stroke="#000" stroke-width="0.6"/><path d="M354.4 239.9v4.2M358.7 239.9v4.2" stroke="#000" stroke-width="1.0"/><path d="M356.9 239.9h4.2v4.2h-4.2z" fill="#fff" stroke="#000" stroke-width="0.6"/><path d="M356.9 239.9v4.2M361.1 239.9v4.2" stroke="#000" stroke-width="1.0"/><path d="M359.4 239.9h4.2v4.2h-4.2z" fill="#fff" stroke="#000" stroke-width="0.6"/><path d="M359.4 239.9v4.2M363.6 239.9v4.2" stroke="#000" stroke-width="1.0"/><path d="M361.9 239.8h4.2v4.2h-4.2z" fill="#fff" stroke="#000" stroke-width="0.6"/><path d="M361.9 239.8v4.2M366.1 239.8v4.2" stroke="#000" stroke-width="1.0"/><path d="M364.4 239.8h4.2v4.2h-4.2z" fill="#fff" stroke="#000" stroke-width="0.6"/><path d="M364.4 239.8v4.2M368.6 239.8v4.2" stroke="#000" stroke-width="1.0"/><path d="M366.9 239.7h4.2v4.2h-4.2z" fill="#fff" stroke="#000" stroke-width="0.6"/><path d="M366.9 239.7v4.2M371.1 239.7v4.2" stroke="#000" stroke-width="1.0"/><path d="M369.4 239.7h4.2v4.2h-4.2z" fill="#fff" stroke="#000" stroke-width="0.6"/><path d="M369.4 239.7v4.2M373.6 239.7v4.2" stroke="#000" stroke-width="1.0"/><path d="M371.9 239.6h4.2v4.2h-4.2z" fill="#fff" stroke="#000" stroke-width="0.6"/><path d="M371.9 239.6v4.2M376.1 239.6v4.2" stroke="#000" stroke-width="1.0"/><path d="M374.3 239.6h4.2v4.2h-4.2z" fill="#fff" stroke="#000" stroke-width="0.6"/><path d="M374.3 239.6v4.2M378.6 239.6v4.2" stroke="#000" stroke-width="1.0"/><path d="M376.8 239.5h4.2v4.2h-4.2z" fill="#fff" stroke="#000" stroke-width="0.6"/><path d="M376.8 239.5v4.2M381.0 239.5v4.2" stroke="#000" stroke-width="1.0"/><path d="M379.3 239.5h4.2v4.2h-4.2z" fill="#fff" stroke="#000" stroke-width="0.6"/><path d="M379.3 239.5v4.2M383.5 239.5v4.2" stroke="#000" stroke-width="1.0"/><path d="M381.8 239.4h4.2v4.2h-4.2z" fill="#fff" stroke="#000" stroke-width="0.6"/><path d="M381.8 239.4v4.2M386.0 239.4v4.2" stroke="#000" stroke-width="1.0"/><path d="M384.3 239.4h4.2v4.2h-4.2z" fill="#fff" stroke="#000" stroke-width="0.6"/><path d="M384.3 239.4v4.2M388.5 239.4v4.2" stroke="#000" stroke-width="1.0"/><path d="M386.8 239.3h4.2v4.2h-4.2z" fill="#fff" stroke="#000" stroke-width="0.6"/><path d="M386.8 239.3v4.2M391.0 239.3v4.2" stroke="#000" stroke-width="1.0"/><path d="M389.3 239.3h4.2v4.2h-4.2z" fill="#fff" stroke="#000" stroke-width="0.6"/><path d="M389.3 239.3v4.2M393.5 239.3v4.2" stroke="#000" stroke-width="1.0"/><path d="M391.8 239.2h4.2v4.2h-4.2z" fill="#fff" stroke="#000" stroke-width="0.6"/><path d="M391.8 239.2v4.2M396.0 239.2v4.2" stroke="#000" stroke-width="1.0"/><path d="M394.2 239.2h4.2v4.2h-4.2z" fill="#fff" stroke="#000" stroke-width="0.6"/><path d="M394.2 239.2v4.2M398.5 239.2v4.2" stroke="#000" stroke-width="1.0"/><path d="M396.7 239.1h4.2v4.2h-4.2z" fill="#fff" stroke="#000" stroke-width="0.6"/><path d="M396.7 239.1v4.2M400.9 239.1v4.2" stroke="#000" stroke-width="1.0"/><path d="M399.2 239.1h4.2v4.2h-4.2z" fill="#fff" stroke="#000" stroke-width="0.6"/><path d="M399.2 239.1v4.2M403.4 239.1v4.2" stroke="#000" stroke-width="1.0"/><path d="M401.7 239.0h4.2v4.2h-4.2z" fill="#fff" stroke="#000" stroke-width="0.6"/><path d="M401.7 239.0v4.2M405.9 239.0v4.2" stroke="#000" stroke-width="1.0"/><path d="M404.2 239.0h4.2v4.2h-4.2z" fill="#fff" stroke="#000" stroke-width="0.6"/><path d="M404.2 239.0v4.2M408.4 239.0v4.2" stroke="#000" stroke-width="1.0"/><path d="M406.7 238.9h4.2v4.2h-4.2z" fill="#fff" stroke="#000" stroke-width="0.6"/><path d="M406.7 238.9v4.2M410.9 238.9v4.2" stroke="#000" stroke-width="1.0"/><path d="M409.2 238.9h4.2v4.2h-4.2z" fill="#fff" stroke="#000" stroke-width="0.6"/><path d="M409.2 238.9v4.2M413.4 238.9v4.2" stroke="#000" stroke-width="1.0"/><path d="M411.7 238.8h4.2v4.2h-4.2z" fill="#fff" stroke="#000" stroke-width="0.6"/><path d="M411.7 238.8v4.2M415.9 238.8v4.2" stroke="#000" stroke-width="1.0"/><path d="M414.1 238.8h4.2v4.2h-4.2z" fill="#fff" stroke="#000" stroke-width="0.6"/><path d="M414.1 238.8v4.2M418.4 238.8v4.2" stroke="#000" stroke-width="1.0"/><path d="M416.6 238.7h4.2v4.2h-4.2z" fill="#fff" stroke="#000" stroke-width="0.6"/><path d="M416.6 238.7v4.2M420.8 238.7v4.2" stroke="#000" stroke-width="1.0"/><path d="M419.1 238.7h4.2v4.2h-4.2z" fill="#fff" stroke="#000" stroke-width="0.6"/><path d="M419.1 238.7v4.2M423.3 238.7v4.2" stroke="#000" stroke-width="1.0"/><path d="M421.6 238.6h4.2v4.2h-4.2z" fill="#fff" stroke="#000" stroke-width="0.6"/><path d="M421.6 238.6v4.2M425.8 238.6v4.2" stroke="#000" stroke-width="1.0"/><path d="M424.1 238.6h4.2v4.2h-4.2z" fill="#fff" stroke="#000" stroke-width="0.6"/><path d="M424.1 238.6v4.2M428.3 238.6v4.2" stroke="#000" stroke-width="1.0"/><path d="M426.6 238.5h4.2v4.2h-4.2z" fill="#fff" stroke="#000" stroke-width="0.6"/><path d="M426.6 238.5v4.2M430.8 238.5v4.2" stroke="#000" stroke-width="1.0"/><path d="M429.1 238.5h4.2v4.2h-4.2z" fill="#fff" stroke="#000" stroke-width="0.6"/><path d="M429.1 238.5v4.2M433.3 238.5v4.2" stroke="#000" stroke-width="1.0"/><path d="M431.6 238.4h4.2v4.2h-4.2z" fill="#fff" stroke="#000" stroke-width="0.6"/><path d="M431.6 238.4v4.2M435.8 238.4v4.2" stroke="#000" stroke-width="1.0"/><path d="M434.0 238.4h4.2v4.2h-4.2z" fill="#fff" stroke="#000" stroke-width="0.6"/><path d="M434.0 238.4v4.2M438.2 238.4v4.2" stroke="#000" stroke-width="1.0"/><path d="M436.5 238.3h4.2v4.2h-4.2z" fill="#fff" stroke="#000" stroke-width="0.6"/><path d="M436.5 238.3v4.2M440.7 238.3v4.2" stroke="#000" stroke-width="1.0"/><path d="M439.0 238.3h4.2v4.2h-4.2z" fill="#fff" stroke="#000" stroke-width="0.6"/><path d="M439.0 238.3v4.2M443.2 238.3v4.2" stroke="#000" stroke-width="1.0"/><path d="M441.5 238.3h4.2v4.2h-4.2z" fill="#fff" stroke="#000" stroke-width="0.6"/><path d="M441.5 238.3v4.2M445.7 238.3v4.2" stroke="#000" stroke-width="1.0"/><path d="M444.0 238.2h4.2v4.2h-4.2z" fill="#fff" stroke="#000" stroke-width="0.6"/><path d="M444.0 238.2v4.2M448.2 238.2v4.2" stroke="#000" stroke-width="1.0"/><path d="M446.5 238.2h4.2v4.2h-4.2z" fill="#fff" stroke="#000" stroke-width="0.6"/><path d="M446.5 238.2v4.2M450.7 238.2v4.2" stroke="#000" stroke-width="1.0"/><path d="M449.0 238.2h4.2v4.2h-4.2z" fill="#fff" stroke="#000" stroke-width="0.6"/><path d="M449.0 238.2v4.2M453.2 238.2v4.2" stroke="#000" stroke-width="1.0"/><path d="M451.5 238.2h4.2v4.2h-4.2z" fill="#fff" stroke="#000" stroke-width="0.6"/><path d="M451.5 238.2v4.2M455.7 238.2v4.2" stroke="#000" stroke-width="1.0"/><path d="M453.9 238.1h4.2v4.2h-4.2z" fill="#fff" stroke="#000" stroke-width="0.6"/><path d="M453.9 238.1v4.2M458.2 238.1v4.2" stroke="#000" stroke-width="1.0"/><path d="M456.4 238.1h4.2v4.2h-4.2z" fill="#fff" stroke="#000" stroke-width="0.6"/><path d="M456.4 238.1v4.2M460.6 238.1v4.2" stroke="#000" stroke-width="1.0"/><path d="M458.9 238.1h4.2v4.2h-4.2z" fill="#fff" stroke="#000" stroke-width="0.6"/><path d="M458.9 238.1v4.2M463.1 238.1v4.2" stroke="#000" stroke-width="1.0"/><path d="M461.4 238.1h4.2v4.2h-4.2z" fill="#fff" stroke="#000" stroke-width="0.6"/><path d="M461.4 238.1v4.2M465.6 238.1v4.2" stroke="#000" stroke-width="1.0"/><path d="M463.9 238.0h4.2v4.2h-4.2z" fill="#fff" stroke="#000" stroke-width="0.6"/><path d="M463.9 238.0v4.2M468.1 238.0v4.2" stroke="#000" stroke-width="1.0"/><path d="M466.4 238.0h4.2v4.2h-4.2z" fill="#fff" stroke="#000" stroke-width="0.6"/><path d="M466.4 238.0v4.2M470.6 238.0v4.2" stroke="#000" stroke-width="1.0"/><path d="M468.9 238.0h4.2v4.2h-4.2z" fill="#fff" stroke="#000" stroke-width="0.6"/><path d="M468.9 238.0v4.2M473.1 238.0v4.2" stroke="#000" stroke-width="1.0"/><path d="M471.4 238.0h4.2v4.2h-4.2z" fill="#fff" stroke="#000" stroke-width="0.6"/><path d="M471.4 238.0v4.2M475.6 238.0v4.2" stroke="#000" stroke-width="1.0"/><path d="M473.8 237.9h4.2v4.2h-4.2z" fill="#fff" stroke="#000" stroke-width="0.6"/><path d="M473.8 237.9v4.2M478.1 237.9v4.2" stroke="#000" stroke-width="1.0"/><path d="M476.3 237.9h4.2v4.2h-4.2z" fill="#fff" stroke="#000" stroke-width="0.6"/><path d="M476.3 237.9v4.2M480.5 237.9v4.2" stroke="#000" stroke-width="1.0"/><path d="M478.8 237.8h4.2v4.2h-4.2z" fill="#fff" stroke="#000" stroke-width="0.6"/><path d="M478.8 237.8v4.2M483.0 237.8v4.2" stroke="#000" stroke-width="1.0"/><path d="M481.3 237.6h4.2v4.2h-4.2z" fill="#fff" stroke="#000" stroke-width="0.6"/><path d="M481.3 237.6v4.2M485.5 237.6v4.2" stroke="#000" stroke-width="1.0"/><path d="M483.8 237.4h4.2v4.2h-4.2z" fill="#fff" stroke="#000" stroke-width="0.6"/><path d="M483.8 237.4v4.2M488.0 237.4v4.2" stroke="#000" stroke-width="1.0"/><path d="M486.3 237.2h4.2v4.2h-4.2z" fill="#fff" stroke="#000" stroke-width="0.6"/><path d="M486.3 237.2v4.2M490.5 237.2v4.2" stroke="#000" stroke-width="1.0"/><path d="M488.8 237.0h4.2v4.2h-4.2z" fill="#fff" stroke="#000" stroke-width="0.6"/><path d="M488.8 237.0v4.2M493.0 237.0v4.2" stroke="#000" stroke-width="1.0"/><path d="M491.3 236.7h4.2v4.2h-4.2z" fill="#fff" stroke="#000" stroke-width="0.6"/><path d="M491.3 236.7v4.2M495.5 236.7v4.2" stroke="#000" stroke-width="1.0"/><path d="M493.7 236.5h4.2v4.2h-4.2z" fill="#fff" stroke="#000" stroke-width="0.6"/><path d="M493.7 236.5v4.2M497.9 236.5v4.2" stroke="#000" stroke-width="1.0"/><path d="M496.2 236.3h4.2v4.2h-4.2z" fill="#fff" stroke="#000" stroke-width="0.6"/><path d="M496.2 236.3v4.2M500.4 236.3v4.2" stroke="#000" stroke-width="1.0"/><path d="M498.7 236.1h4.2v4.2h-4.2z" fill="#fff" stroke="#000" stroke-width="0.6"/><path d="M498.7 236.1v4.2M502.9 236.1v4.2" stroke="#000" stroke-width="1.0"/><path d="M501.2 235.9h4.2v4.2h-4.2z" fill="#fff" stroke="#000" stroke-width="0.6"/><path d="M501.2 235.9v4.2M505.4 235.9v4.2" stroke="#000" stroke-width="1.0"/><path d="M503.7 236.2h4.2v4.2h-4.2z" fill="#fff" stroke="#000" stroke-width="0.6"/><path d="M503.7 236.2v4.2M507.9 236.2v4.2" stroke="#000" stroke-width="1.0"/><path d="M506.2 236.5h4.2v4.2h-4.2z" fill="#fff" stroke="#000" stroke-width="0.6"/><path d="M506.2 236.5v4.2M510.4 236.5v4.2" stroke="#000" stroke-width="1.0"/><path d="M508.7 236.8h4.2v4.2h-4.2z" fill="#fff" stroke="#000" stroke-width="0.6"/><path d="M508.7 236.8v4.2M512.9 236.8v4.2" stroke="#000" stroke-width="1.0"/><path d="M511.2 237.1h4.2v4.2h-4.2z" fill="#fff" stroke="#000" stroke-width="0.6"/><path d="M511.2 237.1v4.2M515.4 237.1v4.2" stroke="#000" stroke-width="1.0"/><path d="M513.6 237.4h4.2v4.2h-4.2z" fill="#fff" stroke="#000" stroke-width="0.6"/><path d="M513.6 237.4v4.2M517.9 237.4v4.2" stroke="#000" stroke-width="1.0"/></g>
<path d="M48.1 52.5V58.5M44.9 52.5h6.4M44.9 58.5h6.4M58.0 41.2V62.4M54.8 41.2h6.4M68.0 51.8V93.8M64.8 51.8h6.4M64.8 93.8h6.4M78.0 71.3V100.3M74.8 71.3h6.4M74.8 100.3h6.4M87.9 89.6V109.2M84.7 89.6h6.4M84.7 109.2h6.4M97.8 105.9V120.5M94.6 105.9h6.4M94.6 120.5h6.4M107.8 113.7V139.7M104.6 113.7h6.4M104.6 139.7h6.4M117.8 115.7V164.5M114.5 115.7h6.4M114.5 164.5h6.4M127.7 128.4V182.4M124.5 128.4h6.4M124.5 182.4h6.4M137.7 133.3V186.3M134.5 133.3h6.4M134.5 186.3h6.4M147.6 137.8V189.0M144.4 137.8h6.4M144.4 189.0h6.4M157.5 142.1V190.1M154.3 142.1h6.4M154.3 190.1h6.4M167.5 146.8V190.8M164.3 146.8h6.4M164.3 190.8h6.4M177.4 151.2V193.2M174.2 151.2h6.4M174.2 193.2h6.4M187.4 156.1V196.5M184.2 156.1h6.4M184.2 196.5h6.4M197.3 159.9V199.5M194.2 159.9h6.4M194.2 199.5h6.4M207.3 165.2V201.2M204.1 165.2h6.4M204.1 201.2h6.4M217.2 169.0V204.4M214.0 169.0h6.4M214.0 204.4h6.4M227.2 174.1V207.1M224.0 174.1h6.4M224.0 207.1h6.4M237.1 179.0V210.0M233.9 179.0h6.4M233.9 210.0h6.4M247.1 183.6V213.2M243.9 183.6h6.4M243.9 213.2h6.4M257.1 188.8V215.6M253.9 188.8h6.4M253.9 215.6h6.4M267.0 193.9V217.9M263.8 193.9h6.4M263.8 217.9h6.4M276.9 198.8V220.2M273.8 198.8h6.4M273.8 220.2h6.4M286.9 203.4V222.4M283.7 203.4h6.4M283.7 222.4h6.4M296.8 207.6V225.2M293.6 207.6h6.4M293.6 225.2h6.4M306.8 212.3V227.5M303.6 212.3h6.4M303.6 227.5h6.4M316.8 217.1V229.7M313.6 217.1h6.4M313.6 229.7h6.4M326.7 221.4V231.4M323.5 221.4h6.4M323.5 231.4h6.4M336.6 224.7V233.3M333.4 224.7h6.4M333.4 233.3h6.4M346.6 228.4V234.8M343.4 228.4h6.4M343.4 234.8h6.4M356.6 230.6V236.6M353.4 230.6h6.4M353.4 236.6h6.4M366.5 232.7V238.7M363.3 232.7h6.4M363.3 238.7h6.4M376.4 234.8V240.8M373.2 234.8h6.4M373.2 240.8h6.4M386.4 236.9V242.9M383.2 236.9h6.4M383.2 242.9h6.4M396.4 238.6V244.6M393.2 238.6h6.4M393.2 244.6h6.4M406.3 240.1V246.1M403.1 240.1h6.4M403.1 246.1h6.4M416.2 241.3V247.7M413.1 241.3h6.4M413.1 247.7h6.4M426.2 242.3V249.1M423.0 242.3h6.4M423.0 249.1h6.4M436.1 243.3V250.5M432.9 243.3h6.4M432.9 250.5h6.4M446.1 244.2V252.0M442.9 244.2h6.4M442.9 252.0h6.4M456.1 244.3V253.7M452.9 244.3h6.4M452.9 253.7h6.4M466.0 244.3V254.9M462.8 244.3h6.4M462.8 254.9h6.4M475.9 245.4V255.0M472.8 245.4h6.4M472.8 255.0h6.4M485.9 245.3V256.1M482.7 245.3h6.4M482.7 256.1h6.4M495.8 246.4V256.2M492.6 246.4h6.4M492.6 256.2h6.4M505.8 246.6V257.0M502.6 246.6h6.4M502.6 257.0h6.4M515.8 245.5V259.3M512.5 245.5h6.4M512.5 259.3h6.4" stroke="#111" stroke-width="1.2" fill="none"/>
<path d="M48.1 55.5 L50.6 56.8 L53.1 58.7 L55.6 60.6 L58.0 62.4 L60.5 64.6 L63.0 67.3 L65.5 70.0 L68.0 72.8 L70.5 76.0 L73.0 79.3 L75.5 82.5 L78.0 85.8 L80.4 89.1 L82.9 92.5 L85.4 95.9 L87.9 99.4 L90.4 102.8 L92.9 106.3 L95.4 109.7 L97.8 113.2 L100.3 116.6 L102.8 119.9 L105.3 123.3 L107.8 126.7 L110.3 130.0 L112.8 133.4 L115.3 136.7 L117.8 140.1 L120.2 143.1 L122.7 146.1 L125.2 149.7 L127.7 155.4 L130.2 156.5 L132.7 157.6 L135.2 158.7 L137.7 159.8 L140.1 160.8 L142.6 161.7 L145.1 162.5 L147.6 163.4 L150.1 164.3 L152.6 164.9 L155.1 165.5 L157.5 166.1 L160.0 166.6 L162.5 167.2 L165.0 168.0 L167.5 168.8 L170.0 169.6 L172.5 170.4 L175.0 171.3 L177.4 172.2 L179.9 173.2 L182.4 174.2 L184.9 175.2 L187.4 176.3 L189.9 177.2 L192.4 178.0 L194.9 178.9 L197.3 179.7 L199.8 180.6 L202.3 181.5 L204.8 182.3 L207.3 183.2 L209.8 184.0 L212.3 184.9 L214.8 185.8 L217.2 186.7 L219.7 187.7 L222.2 188.7 L224.7 189.6 L227.2 190.6 L229.7 191.6 L232.2 192.5 L234.7 193.5 L237.1 194.5 L239.6 195.5 L242.1 196.5 L244.6 197.4 L247.1 198.4 L249.6 199.3 L252.1 200.3 L254.6 201.2 L257.1 202.2 L259.5 203.1 L262.0 204.0 L264.5 205.0 L267.0 205.9 L269.5 206.9 L272.0 207.8 L274.5 208.6 L276.9 209.5 L279.4 210.4 L281.9 211.2 L284.4 212.1 L286.9 212.9 L289.4 213.8 L291.9 214.7 L294.4 215.5 L296.8 216.4 L299.3 217.3 L301.8 218.2 L304.3 219.0 L306.8 219.9 L309.3 220.8 L311.8 221.7 L314.3 222.5 L316.8 223.4 L319.2 224.3 L321.7 225.1 L324.2 225.8 L326.7 226.4 L329.2 227.1 L331.7 227.7 L334.2 228.4 L336.6 229.0 L339.1 229.7 L341.6 230.3 L344.1 231.0 L346.6 231.6 L349.1 232.1 L351.6 232.6 L354.1 233.1 L356.6 233.6 L359.0 234.1 L361.5 234.6 L364.0 235.1 L366.5 235.7 L369.0 236.2 L371.5 236.7 L374.0 237.2 L376.4 237.8 L378.9 238.3 L381.4 238.8 L383.9 239.4 L386.4 239.9 L388.9 240.4 L391.4 240.9 L393.9 241.3 L396.4 241.6 L398.8 242.0 L401.3 242.4 L403.8 242.7 L406.3 243.1 L408.8 243.4 L411.3 243.8 L413.8 244.2 L416.2 244.5 L418.7 244.8 L421.2 245.1 L423.7 245.4 L426.2 245.7 L428.7 246.0 L431.2 246.3 L433.7 246.6 L436.1 246.9 L438.6 247.2 L441.1 247.5 L443.6 247.8 L446.1 248.1 L448.6 248.4 L451.1 248.7 L453.6 248.9 L456.1 249.0 L458.5 249.2 L461.0 249.3 L463.5 249.5 L466.0 249.6 L468.5 249.7 L471.0 249.9 L473.5 250.0 L475.9 250.2 L478.4 250.3 L480.9 250.4 L483.4 250.6 L485.9 250.7 L488.4 250.9 L490.9 251.0 L493.4 251.1 L495.8 251.3 L498.3 251.4 L500.8 251.6 L503.3 251.7 L505.8 251.8 L508.3 252.0 L510.8 252.1 L513.3 252.3 L515.8 252.4" stroke="#2a22ee" stroke-width="1" fill="none"/>
<path d="M45.7 52.8h4.8v4.8h-4.8zM48.2 54.6h4.8v4.8h-4.8zM50.7 56.3h4.8v4.8h-4.8zM53.2 58.4h4.8v4.8h-4.8zM55.6 60.4h4.8v4.8h-4.8zM58.1 62.2h4.8v4.8h-4.8zM60.6 64.9h4.8v4.8h-4.8zM63.1 67.3h4.8v4.8h-4.8zM65.6 70.2h4.8v4.8h-4.8zM68.1 73.6h4.8v4.8h-4.8zM70.6 77.0h4.8v4.8h-4.8zM73.1 80.3h4.8v4.8h-4.8zM75.5 83.3h4.8v4.8h-4.8zM78.0 86.4h4.8v4.8h-4.8zM80.5 89.9h4.8v4.8h-4.8zM83.0 93.8h4.8v4.8h-4.8zM85.5 96.8h4.8v4.8h-4.8zM88.0 100.4h4.8v4.8h-4.8zM90.5 104.2h4.8v4.8h-4.8zM93.0 106.9h4.8v4.8h-4.8zM95.4 110.9h4.8v4.8h-4.8zM97.9 114.6h4.8v4.8h-4.8zM100.4 117.3h4.8v4.8h-4.8zM102.9 120.9h4.8v4.8h-4.8zM105.4 124.6h4.8v4.8h-4.8zM107.9 127.3h4.8v4.8h-4.8zM110.4 131.0h4.8v4.8h-4.8zM112.9 134.5h4.8v4.8h-4.8zM115.3 137.8h4.8v4.8h-4.8zM117.8 140.7h4.8v4.8h-4.8zM120.3 143.5h4.8v4.8h-4.8zM122.8 147.3h4.8v4.8h-4.8zM125.3 152.9h4.8v4.8h-4.8zM127.8 154.1h4.8v4.8h-4.8zM130.3 155.1h4.8v4.8h-4.8zM132.8 156.6h4.8v4.8h-4.8zM135.2 157.6h4.8v4.8h-4.8zM137.7 158.3h4.8v4.8h-4.8zM140.2 159.4h4.8v4.8h-4.8zM142.7 159.9h4.8v4.8h-4.8zM145.2 161.0h4.8v4.8h-4.8zM147.7 161.8h4.8v4.8h-4.8zM150.2 162.6h4.8v4.8h-4.8zM152.7 163.0h4.8v4.8h-4.8zM155.1 163.7h4.8v4.8h-4.8zM157.6 164.4h4.8v4.8h-4.8zM160.1 164.7h4.8v4.8h-4.8zM162.6 165.9h4.8v4.8h-4.8zM165.1 166.1h4.8v4.8h-4.8zM167.6 167.4h4.8v4.8h-4.8zM170.1 167.9h4.8v4.8h-4.8zM172.6 168.8h4.8v4.8h-4.8zM175.0 169.9h4.8v4.8h-4.8zM177.5 170.8h4.8v4.8h-4.8zM180.0 171.7h4.8v4.8h-4.8zM182.5 172.4h4.8v4.8h-4.8zM185.0 173.6h4.8v4.8h-4.8zM187.5 175.0h4.8v4.8h-4.8zM190.0 175.6h4.8v4.8h-4.8zM192.5 176.7h4.8v4.8h-4.8zM194.9 177.7h4.8v4.8h-4.8zM197.4 178.3h4.8v4.8h-4.8zM199.9 178.7h4.8v4.8h-4.8zM202.4 179.7h4.8v4.8h-4.8zM204.9 180.9h4.8v4.8h-4.8zM207.4 181.4h4.8v4.8h-4.8zM209.9 182.9h4.8v4.8h-4.8zM212.4 183.8h4.8v4.8h-4.8zM214.8 184.6h4.8v4.8h-4.8zM217.3 185.3h4.8v4.8h-4.8zM219.8 186.6h4.8v4.8h-4.8zM222.3 186.9h4.8v4.8h-4.8zM224.8 188.0h4.8v4.8h-4.8zM227.3 189.2h4.8v4.8h-4.8zM229.8 190.3h4.8v4.8h-4.8zM232.3 191.1h4.8v4.8h-4.8zM234.7 191.8h4.8v4.8h-4.8zM237.2 193.0h4.8v4.8h-4.8zM239.7 194.0h4.8v4.8h-4.8zM242.2 194.8h4.8v4.8h-4.8zM244.7 195.7h4.8v4.8h-4.8zM247.2 196.8h4.8v4.8h-4.8zM249.7 197.9h4.8v4.8h-4.8zM252.2 199.0h4.8v4.8h-4.8zM254.7 200.0h4.8v4.8h-4.8zM257.1 200.7h4.8v4.8h-4.8zM259.6 201.6h4.8v4.8h-4.8zM262.1 202.8h4.8v4.8h-4.8zM264.6 203.8h4.8v4.8h-4.8zM267.1 204.6h4.8v4.8h-4.8zM269.6 205.6h4.8v4.8h-4.8zM272.1 206.6h4.8v4.8h-4.8zM274.6 206.7h4.8v4.8h-4.8zM277.0 208.3h4.8v4.8h-4.8zM279.5 208.6h4.8v4.8h-4.8zM282.0 209.7h4.8v4.8h-4.8zM284.5 210.7h4.8v4.8h-4.8zM287.0 211.6h4.8v4.8h-4.8zM289.5 212.0h4.8v4.8h-4.8zM292.0 213.2h4.8v4.8h-4.8zM294.4 213.7h4.8v4.8h-4.8zM296.9 214.8h4.8v4.8h-4.8zM299.4 216.1h4.8v4.8h-4.8zM301.9 216.5h4.8v4.8h-4.8zM304.4 217.6h4.8v4.8h-4.8zM306.9 218.6h4.8v4.8h-4.8zM309.4 219.6h4.8v4.8h-4.8zM311.9 220.3h4.8v4.8h-4.8zM314.4 220.6h4.8v4.8h-4.8zM316.8 221.8h4.8v4.8h-4.8zM319.3 222.7h4.8v4.8h-4.8zM321.8 223.0h4.8v4.8h-4.8zM324.3 224.0h4.8v4.8h-4.8zM326.8 224.8h4.8v4.8h-4.8zM329.3 225.6h4.8v4.8h-4.8zM331.8 226.4h4.8v4.8h-4.8zM334.2 226.3h4.8v4.8h-4.8zM336.7 227.1h4.8v4.8h-4.8zM339.2 228.0h4.8v4.8h-4.8zM341.7 228.3h4.8v4.8h-4.8zM344.2 229.0h4.8v4.8h-4.8zM346.7 229.8h4.8v4.8h-4.8zM349.2 229.9h4.8v4.8h-4.8zM351.7 230.9h4.8v4.8h-4.8zM354.2 231.5h4.8v4.8h-4.8zM356.6 231.3h4.8v4.8h-4.8zM359.1 232.2h4.8v4.8h-4.8zM361.6 232.9h4.8v4.8h-4.8zM364.1 233.7h4.8v4.8h-4.8zM366.6 233.6h4.8v4.8h-4.8zM369.1 234.0h4.8v4.8h-4.8zM371.6 235.1h4.8v4.8h-4.8zM374.1 235.7h4.8v4.8h-4.8zM376.5 235.7h4.8v4.8h-4.8zM379.0 236.4h4.8v4.8h-4.8zM381.5 237.2h4.8v4.8h-4.8zM384.0 237.8h4.8v4.8h-4.8zM386.5 237.7h4.8v4.8h-4.8zM389.0 238.6h4.8v4.8h-4.8zM391.5 239.1h4.8v4.8h-4.8zM394.0 239.2h4.8v4.8h-4.8zM396.4 239.3h4.8v4.8h-4.8zM398.9 239.6h4.8v4.8h-4.8zM401.4 240.1h4.8v4.8h-4.8zM403.9 240.9h4.8v4.8h-4.8zM406.4 240.6h4.8v4.8h-4.8zM408.9 241.0h4.8v4.8h-4.8zM411.4 241.7h4.8v4.8h-4.8zM413.9 241.8h4.8v4.8h-4.8zM416.3 242.1h4.8v4.8h-4.8zM418.8 242.3h4.8v4.8h-4.8zM421.3 243.0h4.8v4.8h-4.8zM423.8 243.5h4.8v4.8h-4.8zM426.3 243.5h4.8v4.8h-4.8zM428.8 243.6h4.8v4.8h-4.8zM431.3 244.1h4.8v4.8h-4.8zM433.8 244.6h4.8v4.8h-4.8zM436.2 245.2h4.8v4.8h-4.8zM438.7 245.5h4.8v4.8h-4.8zM441.2 245.2h4.8v4.8h-4.8zM443.7 245.3h4.8v4.8h-4.8zM446.2 246.3h4.8v4.8h-4.8zM448.7 246.6h4.8v4.8h-4.8zM451.2 246.5h4.8v4.8h-4.8zM453.7 246.8h4.8v4.8h-4.8zM456.1 247.1h4.8v4.8h-4.8zM458.6 247.0h4.8v4.8h-4.8zM461.1 247.4h4.8v4.8h-4.8zM463.6 246.8h4.8v4.8h-4.8zM466.1 247.1h4.8v4.8h-4.8zM468.6 247.3h4.8v4.8h-4.8zM471.1 247.3h4.8v4.8h-4.8zM473.6 248.1h4.8v4.8h-4.8zM476.0 247.5h4.8v4.8h-4.8zM478.5 248.1h4.8v4.8h-4.8zM481.0 247.9h4.8v4.8h-4.8zM483.5 248.2h4.8v4.8h-4.8zM486.0 248.4h4.8v4.8h-4.8zM488.5 248.3h4.8v4.8h-4.8zM491.0 248.7h4.8v4.8h-4.8zM493.4 248.9h4.8v4.8h-4.8zM495.9 248.9h4.8v4.8h-4.8zM498.4 249.4h4.8v4.8h-4.8zM500.9 249.0h4.8v4.8h-4.8zM503.4 249.2h4.8v4.8h-4.8zM505.9 249.5h4.8v4.8h-4.8zM508.4 249.6h4.8v4.8h-4.8zM510.9 249.7h4.8v4.8h-4.8zM513.4 250.3h4.8v4.8h-4.8z" fill="#2a22ee" stroke="#2a22ee" stroke-width="0.6"/>
<path d="M48.1 11.5V78.5M44.9 11.5h6.4M44.9 78.5h6.4M58.0 38.3V64.3M54.8 38.3h6.4M54.8 64.3h6.4M68.0 49.5V69.5M64.8 49.5h6.4M64.8 69.5h6.4M78.0 59.2V77.2M74.8 59.2h6.4M74.8 77.2h6.4M87.9 66.8V87.8M84.7 66.8h6.4M84.7 87.8h6.4M97.8 76.4V94.4M94.6 76.4h6.4M94.6 94.4h6.4M107.8 83.1V103.1M104.6 83.1h6.4M104.6 103.1h6.4M117.8 89.7V111.7M114.5 89.7h6.4M114.5 111.7h6.4M127.7 97.2V117.6M124.5 97.2h6.4M124.5 117.6h6.4M137.7 102.2V123.4M134.5 102.2h6.4M134.5 123.4h6.4M147.6 106.6V128.0M144.4 106.6h6.4M144.4 128.0h6.4M157.5 110.8V132.8M154.3 110.8h6.4M154.3 132.8h6.4M167.5 114.9V136.9M164.3 114.9h6.4M164.3 136.9h6.4M177.4 118.4V141.0M174.2 118.4h6.4M174.2 141.0h6.4M187.4 121.5V145.5M184.2 121.5h6.4M184.2 145.5h6.4M197.3 126.1V148.9M194.2 126.1h6.4M194.2 148.9h6.4M207.3 129.5V152.9M204.1 129.5h6.4M204.1 152.9h6.4M217.2 132.9V155.9M214.0 132.9h6.4M214.0 155.9h6.4M227.2 135.9V159.9M224.0 135.9h6.4M224.0 159.9h6.4M237.1 140.0V164.0M233.9 140.0h6.4M233.9 164.0h6.4M247.1 143.9V167.9M243.9 143.9h6.4M243.9 167.9h6.4M257.1 148.5V172.1M253.9 148.5h6.4M253.9 172.1h6.4M267.0 151.9V176.3M263.8 151.9h6.4M263.8 176.3h6.4M276.9 156.6V179.4M273.8 156.6h6.4M273.8 179.4h6.4M286.9 160.0V183.0M283.7 160.0h6.4M283.7 183.0h6.4M296.8 165.1V187.1M293.6 165.1h6.4M293.6 187.1h6.4M306.8 168.8V190.8M303.6 168.8h6.4M303.6 190.8h6.4M316.8 172.3V195.7M313.6 172.3h6.4M313.6 195.7h6.4M326.7 175.8V198.6M323.5 175.8h6.4M323.5 198.6h6.4M336.6 179.8V201.8M333.4 179.8h6.4M333.4 201.8h6.4M346.6 182.6V207.6M343.4 182.6h6.4M343.4 207.6h6.4M356.6 188.3V210.9M353.4 188.3h6.4M353.4 210.9h6.4M366.5 192.2V214.8M363.3 192.2h6.4M363.3 214.8h6.4M376.4 196.5V217.9M373.2 196.5h6.4M373.2 217.9h6.4M386.4 201.1V220.7M383.2 201.1h6.4M383.2 220.7h6.4M396.4 204.9V224.3M393.2 204.9h6.4M393.2 224.3h6.4M406.3 208.4V227.4M403.1 208.4h6.4M403.1 227.4h6.4M416.2 211.3V230.9M413.1 211.3h6.4M413.1 230.9h6.4M426.2 214.9V233.5M423.0 214.9h6.4M423.0 233.5h6.4M436.1 218.0V237.0M432.9 218.0h6.4M432.9 237.0h6.4M446.1 221.7V238.5M442.9 221.7h6.4M442.9 238.5h6.4M456.1 224.7V241.1M452.9 224.7h6.4M452.9 241.1h6.4M466.0 227.1V244.5M462.8 227.1h6.4M462.8 244.5h6.4M475.9 230.1V246.5M472.8 230.1h6.4M472.8 246.5h6.4M485.9 232.6V248.4M482.7 232.6h6.4M482.7 248.4h6.4M495.8 234.6V250.2M492.6 234.6h6.4M492.6 250.2h6.4M505.8 235.8V252.2M502.6 235.8h6.4M502.6 252.2h6.4M515.8 236.3V254.7M512.5 236.3h6.4M512.5 254.7h6.4" stroke="#111" stroke-width="1.2" fill="none"/>
<path d="M48.1 45.0 L50.6 46.2 L53.1 47.9 L55.6 49.6 L58.0 51.3 L60.5 53.2 L63.0 55.3 L65.5 57.4 L68.0 59.5 L70.5 61.6 L73.0 63.8 L75.5 65.9 L78.0 68.2 L80.4 70.6 L82.9 73.0 L85.4 75.1 L87.9 77.3 L90.4 79.4 L92.9 81.5 L95.4 83.4 L97.8 85.4 L100.3 87.3 L102.8 89.3 L105.3 91.2 L107.8 93.1 L110.3 95.0 L112.8 96.9 L115.3 98.8 L117.8 100.7 L120.2 102.4 L122.7 104.1 L125.2 105.7 L127.7 107.4 L130.2 108.8 L132.7 110.1 L135.2 111.5 L137.7 112.8 L140.1 114.0 L142.6 115.1 L145.1 116.2 L147.6 117.3 L150.1 118.5 L152.6 119.6 L155.1 120.7 L157.5 121.8 L160.0 122.8 L162.5 123.8 L165.0 124.9 L167.5 125.9 L170.0 126.8 L172.5 127.8 L175.0 128.7 L177.4 129.7 L179.9 130.6 L182.4 131.6 L184.9 132.6 L187.4 133.5 L189.9 134.5 L192.4 135.5 L194.9 136.5 L197.3 137.5 L199.8 138.4 L202.3 139.4 L204.8 140.3 L207.3 141.2 L209.8 142.1 L212.3 142.8 L214.8 143.6 L217.2 144.4 L219.7 145.2 L222.2 146.1 L224.7 147.0 L227.2 147.9 L229.7 148.9 L232.2 149.9 L234.7 150.9 L237.1 152.0 L239.6 153.0 L242.1 154.0 L244.6 154.9 L247.1 155.9 L249.6 157.0 L252.1 158.1 L254.6 159.2 L257.1 160.3 L259.5 161.3 L262.0 162.2 L264.5 163.1 L267.0 164.1 L269.5 165.1 L272.0 166.0 L274.5 167.0 L276.9 168.0 L279.4 168.9 L281.9 169.7 L284.4 170.6 L286.9 171.5 L289.4 172.6 L291.9 173.8 L294.4 175.0 L296.8 176.1 L299.3 177.0 L301.8 178.0 L304.3 178.9 L306.8 179.8 L309.3 180.9 L311.8 181.9 L314.3 183.0 L316.8 184.0 L319.2 184.8 L321.7 185.6 L324.2 186.4 L326.7 187.2 L329.2 188.1 L331.7 189.0 L334.2 189.9 L336.6 190.8 L339.1 191.9 L341.6 193.0 L344.1 194.0 L346.6 195.1 L349.1 196.2 L351.6 197.4 L354.1 198.5 L356.6 199.6 L359.0 200.5 L361.5 201.5 L364.0 202.5 L366.5 203.5 L369.0 204.4 L371.5 205.3 L374.0 206.3 L376.4 207.2 L378.9 208.1 L381.4 209.0 L383.9 209.9 L386.4 210.9 L388.9 211.8 L391.4 212.7 L393.9 213.7 L396.4 214.6 L398.8 215.4 L401.3 216.2 L403.8 217.1 L406.3 217.9 L408.8 218.7 L411.3 219.5 L413.8 220.3 L416.2 221.1 L418.7 221.9 L421.2 222.7 L423.7 223.4 L426.2 224.2 L428.7 225.1 L431.2 225.9 L433.7 226.7 L436.1 227.5 L438.6 228.2 L441.1 228.8 L443.6 229.5 L446.1 230.1 L448.6 230.8 L451.1 231.5 L453.6 232.2 L456.1 232.9 L458.5 233.6 L461.0 234.3 L463.5 235.1 L466.0 235.8 L468.5 236.4 L471.0 237.0 L473.5 237.7 L475.9 238.3 L478.4 238.8 L480.9 239.4 L483.4 239.9 L485.9 240.5 L488.4 241.0 L490.9 241.4 L493.4 241.9 L495.8 242.4 L498.3 242.8 L500.8 243.2 L503.3 243.6 L505.8 244.0 L508.3 244.4 L510.8 244.8 L513.3 245.2 L515.8 245.5" stroke="#ff0000" stroke-width="1" fill="none"/>
<path d="M46.1 43.3h3.9v3.9h-3.9zM48.6 43.9h3.9v3.9h-3.9zM51.1 45.9h3.9v3.9h-3.9zM53.6 47.5h3.9v3.9h-3.9zM56.1 49.4h3.9v3.9h-3.9zM58.6 51.0h3.9v3.9h-3.9zM61.1 53.3h3.9v3.9h-3.9zM63.6 55.8h3.9v3.9h-3.9zM66.0 57.4h3.9v3.9h-3.9zM68.5 59.8h3.9v3.9h-3.9zM71.0 61.9h3.9v3.9h-3.9zM73.5 64.1h3.9v3.9h-3.9zM76.0 65.9h3.9v3.9h-3.9zM78.5 68.8h3.9v3.9h-3.9zM81.0 71.4h3.9v3.9h-3.9zM83.5 73.3h3.9v3.9h-3.9zM86.0 75.1h3.9v3.9h-3.9zM88.4 77.7h3.9v3.9h-3.9zM90.9 79.7h3.9v3.9h-3.9zM93.4 81.6h3.9v3.9h-3.9zM95.9 83.1h3.9v3.9h-3.9zM98.4 85.8h3.9v3.9h-3.9zM100.9 87.7h3.9v3.9h-3.9zM103.4 89.1h3.9v3.9h-3.9zM105.8 91.3h3.9v3.9h-3.9zM108.3 92.7h3.9v3.9h-3.9zM110.8 95.4h3.9v3.9h-3.9zM113.3 97.1h3.9v3.9h-3.9zM115.8 98.8h3.9v3.9h-3.9zM118.3 100.6h3.9v3.9h-3.9zM120.8 101.8h3.9v3.9h-3.9zM123.3 103.6h3.9v3.9h-3.9zM125.7 105.3h3.9v3.9h-3.9zM128.2 106.9h3.9v3.9h-3.9zM130.7 107.8h3.9v3.9h-3.9zM133.2 109.9h3.9v3.9h-3.9zM135.7 110.9h3.9v3.9h-3.9zM138.2 112.0h3.9v3.9h-3.9zM140.7 112.7h3.9v3.9h-3.9zM143.2 114.5h3.9v3.9h-3.9zM145.7 115.7h3.9v3.9h-3.9zM148.1 116.6h3.9v3.9h-3.9zM150.6 117.4h3.9v3.9h-3.9zM153.1 119.0h3.9v3.9h-3.9zM155.6 119.5h3.9v3.9h-3.9zM158.1 121.2h3.9v3.9h-3.9zM160.6 122.0h3.9v3.9h-3.9zM163.1 122.7h3.9v3.9h-3.9zM165.6 123.9h3.9v3.9h-3.9zM168.0 125.0h3.9v3.9h-3.9zM170.5 125.6h3.9v3.9h-3.9zM173.0 127.1h3.9v3.9h-3.9zM175.5 127.6h3.9v3.9h-3.9zM178.0 129.1h3.9v3.9h-3.9zM180.5 130.0h3.9v3.9h-3.9zM183.0 130.2h3.9v3.9h-3.9zM185.4 131.7h3.9v3.9h-3.9zM187.9 132.4h3.9v3.9h-3.9zM190.4 133.8h3.9v3.9h-3.9zM192.9 134.5h3.9v3.9h-3.9zM195.4 135.5h3.9v3.9h-3.9zM197.9 136.9h3.9v3.9h-3.9zM200.4 137.0h3.9v3.9h-3.9zM202.9 138.4h3.9v3.9h-3.9zM205.3 139.1h3.9v3.9h-3.9zM207.8 139.7h3.9v3.9h-3.9zM210.3 141.1h3.9v3.9h-3.9zM212.8 141.8h3.9v3.9h-3.9zM215.3 142.8h3.9v3.9h-3.9zM217.8 143.4h3.9v3.9h-3.9zM220.3 144.1h3.9v3.9h-3.9zM222.8 145.4h3.9v3.9h-3.9zM225.2 145.6h3.9v3.9h-3.9zM227.7 146.5h3.9v3.9h-3.9zM230.2 148.2h3.9v3.9h-3.9zM232.7 148.9h3.9v3.9h-3.9zM235.2 149.9h3.9v3.9h-3.9zM237.7 151.3h3.9v3.9h-3.9zM240.2 151.8h3.9v3.9h-3.9zM242.7 153.4h3.9v3.9h-3.9zM245.2 154.1h3.9v3.9h-3.9zM247.6 154.9h3.9v3.9h-3.9zM250.1 155.8h3.9v3.9h-3.9zM252.6 157.1h3.9v3.9h-3.9zM255.1 158.8h3.9v3.9h-3.9zM257.6 159.2h3.9v3.9h-3.9zM260.1 160.0h3.9v3.9h-3.9zM262.6 161.0h3.9v3.9h-3.9zM265.1 162.5h3.9v3.9h-3.9zM267.5 162.8h3.9v3.9h-3.9zM270.0 164.4h3.9v3.9h-3.9zM272.5 164.8h3.9v3.9h-3.9zM275.0 166.4h3.9v3.9h-3.9zM277.5 166.9h3.9v3.9h-3.9zM280.0 167.4h3.9v3.9h-3.9zM282.5 169.0h3.9v3.9h-3.9zM284.9 169.4h3.9v3.9h-3.9zM287.4 170.9h3.9v3.9h-3.9zM289.9 171.8h3.9v3.9h-3.9zM292.4 172.6h3.9v3.9h-3.9zM294.9 173.7h3.9v3.9h-3.9zM297.4 174.8h3.9v3.9h-3.9zM299.9 175.7h3.9v3.9h-3.9zM302.4 176.5h3.9v3.9h-3.9zM304.9 177.5h3.9v3.9h-3.9zM307.3 179.3h3.9v3.9h-3.9zM309.8 179.6h3.9v3.9h-3.9zM312.3 181.1h3.9v3.9h-3.9zM314.8 181.8h3.9v3.9h-3.9zM317.3 182.6h3.9v3.9h-3.9zM319.8 183.9h3.9v3.9h-3.9zM322.3 184.9h3.9v3.9h-3.9zM324.8 185.3h3.9v3.9h-3.9zM327.2 185.8h3.9v3.9h-3.9zM329.7 187.4h3.9v3.9h-3.9zM332.2 187.5h3.9v3.9h-3.9zM334.7 188.7h3.9v3.9h-3.9zM337.2 189.9h3.9v3.9h-3.9zM339.7 191.4h3.9v3.9h-3.9zM342.2 192.4h3.9v3.9h-3.9zM344.7 193.3h3.9v3.9h-3.9zM347.1 194.2h3.9v3.9h-3.9zM349.6 195.7h3.9v3.9h-3.9zM352.1 196.8h3.9v3.9h-3.9zM354.6 197.9h3.9v3.9h-3.9zM357.1 198.8h3.9v3.9h-3.9zM359.6 199.2h3.9v3.9h-3.9zM362.1 200.3h3.9v3.9h-3.9zM364.6 201.5h3.9v3.9h-3.9zM367.0 202.4h3.9v3.9h-3.9zM369.5 203.7h3.9v3.9h-3.9zM372.0 204.1h3.9v3.9h-3.9zM374.5 205.4h3.9v3.9h-3.9zM377.0 206.1h3.9v3.9h-3.9zM379.5 207.3h3.9v3.9h-3.9zM382.0 207.7h3.9v3.9h-3.9zM384.4 208.9h3.9v3.9h-3.9zM386.9 209.4h3.9v3.9h-3.9zM389.4 210.5h3.9v3.9h-3.9zM391.9 212.1h3.9v3.9h-3.9zM394.4 212.5h3.9v3.9h-3.9zM396.9 213.9h3.9v3.9h-3.9zM399.4 214.3h3.9v3.9h-3.9zM401.9 214.7h3.9v3.9h-3.9zM404.4 216.2h3.9v3.9h-3.9zM406.8 216.3h3.9v3.9h-3.9zM409.3 217.8h3.9v3.9h-3.9zM411.8 218.0h3.9v3.9h-3.9zM414.3 219.4h3.9v3.9h-3.9zM416.8 219.6h3.9v3.9h-3.9zM419.3 220.6h3.9v3.9h-3.9zM421.8 221.9h3.9v3.9h-3.9zM424.2 222.3h3.9v3.9h-3.9zM426.7 223.2h3.9v3.9h-3.9zM429.2 224.1h3.9v3.9h-3.9zM431.7 224.4h3.9v3.9h-3.9zM434.2 225.9h3.9v3.9h-3.9zM436.7 226.6h3.9v3.9h-3.9zM439.2 226.6h3.9v3.9h-3.9zM441.7 227.5h3.9v3.9h-3.9zM444.2 228.0h3.9v3.9h-3.9zM446.6 229.1h3.9v3.9h-3.9zM449.1 229.1h3.9v3.9h-3.9zM451.6 230.2h3.9v3.9h-3.9zM454.1 231.2h3.9v3.9h-3.9zM456.6 231.9h3.9v3.9h-3.9zM459.1 232.0h3.9v3.9h-3.9zM461.6 233.4h3.9v3.9h-3.9zM464.1 233.6h3.9v3.9h-3.9zM466.5 234.8h3.9v3.9h-3.9zM469.0 235.1h3.9v3.9h-3.9zM471.5 235.4h3.9v3.9h-3.9zM474.0 236.5h3.9v3.9h-3.9zM476.5 237.2h3.9v3.9h-3.9zM479.0 237.6h3.9v3.9h-3.9zM481.5 238.4h3.9v3.9h-3.9zM483.9 238.3h3.9v3.9h-3.9zM486.4 238.8h3.9v3.9h-3.9zM488.9 239.2h3.9v3.9h-3.9zM491.4 240.0h3.9v3.9h-3.9zM493.9 240.3h3.9v3.9h-3.9zM496.4 240.8h3.9v3.9h-3.9zM498.9 241.3h3.9v3.9h-3.9zM501.4 241.5h3.9v3.9h-3.9zM503.9 241.7h3.9v3.9h-3.9zM506.3 242.5h3.9v3.9h-3.9zM508.8 242.6h3.9v3.9h-3.9zM511.3 243.2h3.9v3.9h-3.9zM513.8 244.0h3.9v3.9h-3.9z" fill="#ffdcdc" stroke="#ff0000" stroke-width="0.95"/>
<rect x="388.5" y="27" width="122.2" height="72.8" fill="#fff" stroke="#bdbdbd" stroke-width="1"/>
<path d="M392.6 37H416.6" stroke="#000" stroke-width="1.0"/>
<rect x="402.4" y="34.8" width="4.4" height="4.4" fill="#000" stroke="#000" stroke-width="1"/>
<text x="419.7" y="40.8" font-size="12.3">Arg448</text>
<path d="M392.6 55.2H416.6" stroke="#000" stroke-width="1.0"/>
<rect x="402.4" y="53.0" width="4.4" height="4.4" fill="#fff" stroke="#000" stroke-width="1"/>
<text x="419.7" y="59.0" font-size="12.3">Lys448</text>
<path d="M392.6 73.4H416.6" stroke="#2a22ee" stroke-width="1.8"/>
<rect x="402.4" y="71.2" width="4.4" height="4.4" fill="#2a22ee" stroke="#2a22ee" stroke-width="1"/>
<text x="419.7" y="77.2" font-size="12.3">Arg448 in plasma</text>
<path d="M392.6 91.6H416.6" stroke="#ff0000" stroke-width="0.9"/>
<rect x="402.4" y="89.39999999999999" width="4.4" height="4.4" fill="#fff" stroke="#ff0000" stroke-width="1"/>
<text x="419.7" y="95.39999999999999" font-size="12.3">Lys448 in plasma</text>
</svg>
</body></html>
